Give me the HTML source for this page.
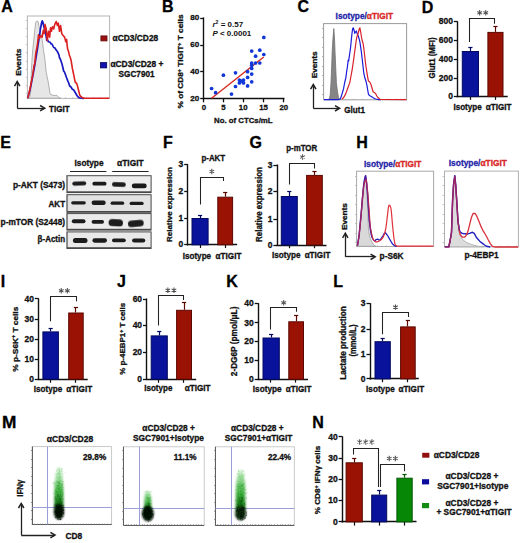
<!DOCTYPE html>
<html><head><meta charset="utf-8"><style>
html,body{margin:0;padding:0;background:#fff;}
svg{display:block;}
text{font-family:"Liberation Sans",sans-serif;font-weight:bold;}
</style></head><body>
<svg width="520" height="543" viewBox="0 0 520 543">
<defs><filter id="bl2" x="-20%" y="-50%" width="140%" height="200%"><feGaussianBlur stdDeviation="0.45"/></filter><filter id="blur" x="-50%" y="-50%" width="200%" height="200%"><feGaussianBlur stdDeviation="0.9"/></filter></defs>
<rect width="520" height="543" fill="#fff"/>
<text x="1.25" y="12.45" font-size="16" fill="#000" stroke="#000" stroke-width="0.3">A</text>
<rect x="27.40" y="16.00" width="82.20" height="82.40" fill="white" stroke="#b4b4b4" stroke-width="1.0"/>
<line x1="25.80" y1="20.50" x2="27.40" y2="20.50" stroke="#b0b0b0" stroke-width="0.7"/>
<line x1="25.80" y1="28.50" x2="27.40" y2="28.50" stroke="#b0b0b0" stroke-width="0.7"/>
<line x1="25.80" y1="36.50" x2="27.40" y2="36.50" stroke="#b0b0b0" stroke-width="0.7"/>
<line x1="25.80" y1="44.50" x2="27.40" y2="44.50" stroke="#b0b0b0" stroke-width="0.7"/>
<line x1="25.80" y1="52.50" x2="27.40" y2="52.50" stroke="#b0b0b0" stroke-width="0.7"/>
<line x1="25.80" y1="61.50" x2="27.40" y2="61.50" stroke="#b0b0b0" stroke-width="0.7"/>
<line x1="25.80" y1="69.50" x2="27.40" y2="69.50" stroke="#b0b0b0" stroke-width="0.7"/>
<line x1="25.80" y1="77.50" x2="27.40" y2="77.50" stroke="#b0b0b0" stroke-width="0.7"/>
<line x1="25.80" y1="85.50" x2="27.40" y2="85.50" stroke="#b0b0b0" stroke-width="0.7"/>
<line x1="25.80" y1="93.50" x2="27.40" y2="93.50" stroke="#b0b0b0" stroke-width="0.7"/>
<line x1="30.50" y1="98.40" x2="30.50" y2="97.20" stroke="#aaa" stroke-width="0.6"/>
<line x1="37.50" y1="98.40" x2="37.50" y2="97.20" stroke="#aaa" stroke-width="0.6"/>
<line x1="44.50" y1="98.40" x2="44.50" y2="97.20" stroke="#aaa" stroke-width="0.6"/>
<line x1="51.50" y1="98.40" x2="51.50" y2="97.20" stroke="#aaa" stroke-width="0.6"/>
<line x1="58.50" y1="98.40" x2="58.50" y2="97.20" stroke="#aaa" stroke-width="0.6"/>
<line x1="65.50" y1="98.40" x2="65.50" y2="97.20" stroke="#aaa" stroke-width="0.6"/>
<line x1="72.50" y1="98.40" x2="72.50" y2="97.20" stroke="#aaa" stroke-width="0.6"/>
<line x1="79.50" y1="98.40" x2="79.50" y2="97.20" stroke="#aaa" stroke-width="0.6"/>
<line x1="86.50" y1="98.40" x2="86.50" y2="97.20" stroke="#aaa" stroke-width="0.6"/>
<line x1="93.50" y1="98.40" x2="93.50" y2="97.20" stroke="#aaa" stroke-width="0.6"/>
<line x1="100.50" y1="98.40" x2="100.50" y2="97.20" stroke="#aaa" stroke-width="0.6"/>
<line x1="107.50" y1="98.40" x2="107.50" y2="97.20" stroke="#aaa" stroke-width="0.6"/>
<path d="M27.60,98.20 L29.80,97.00 L30.70,92.00 L31.40,70.00 L32.30,55.00 L32.90,48.60 L33.80,40.00 L34.80,30.00 L35.80,22.10 L37.00,20.90 L38.10,21.50 L39.30,27.80 L40.50,32.00 L41.60,37.10 L42.50,42.00 L43.30,48.60 L44.10,54.00 L44.80,58.00 L46.20,72.50 L47.20,77.00 L48.20,81.90 L49.20,88.00 L50.20,94.00 L52.90,95.40 L57.00,95.40 L59.00,98.00 L61.00,98.20Z" fill="#e6e6e6" stroke="#a8a8a8" stroke-width="0.9" stroke-linejoin="round"/>
<path d="M27.60,98.20 L28.60,95.00 L30.20,89.00 L32.00,80.00 L33.50,72.00 L35.20,62.50 L36.40,55.00 L37.50,48.60 L38.50,42.00 L39.30,37.10 L40.40,29.00 L41.00,26.00 L41.60,22.70 L42.20,20.90 L42.80,22.00 L43.30,24.40 L44.50,29.00 L45.10,28.00 L45.60,32.50 L46.80,40.50 L47.50,40.00 L48.50,41.70 L50.20,42.30 L51.00,43.80 L52.00,44.00 L53.70,47.50 L55.00,48.00 L56.00,49.80 L57.70,52.10 L59.00,55.00 L59.50,57.80 L60.50,59.50 L61.70,63.10 L62.50,66.00 L63.70,71.20 L64.50,72.00 L65.70,75.20 L66.50,77.50 L67.70,80.60 L68.50,82.50 L69.70,86.00 L71.00,87.00 L72.40,89.30 L73.50,89.80 L74.50,91.30 L75.50,93.00 L76.50,94.70 L77.50,96.20 L78.50,97.40 L80.00,98.00 L81.20,98.20 L84.00,98.30" fill="none" stroke="#1818c0" stroke-width="1.7" stroke-linejoin="round"/>
<path d="M27.60,98.20 L28.50,95.50 L30.00,88.60 L31.30,82.00 L32.70,75.20 L34.10,65.00 L34.70,64.40 L35.80,53.20 L36.80,48.00 L37.50,44.00 L38.50,34.80 L39.60,38.20 L40.80,35.90 L42.20,37.10 L43.30,30.20 L44.20,33.60 L45.00,24.40 L46.20,29.00 L47.30,40.50 L48.50,31.30 L49.70,37.10 L50.50,27.80 L51.40,31.30 L52.50,26.70 L53.70,29.00 L54.80,24.40 L56.20,21.50 L57.40,25.50 L58.30,23.20 L59.50,31.30 L60.60,25.50 L61.80,33.60 L62.90,35.30 L64.60,37.10 L65.80,41.70 L66.60,39.40 L67.50,48.60 L68.70,52.10 L69.30,55.00 L70.40,57.80 L71.10,60.40 L72.40,68.50 L73.80,75.20 L75.10,81.90 L76.90,83.90 L78.50,90.00 L79.80,95.40 L82.50,97.80 L85.20,98.20 L109.30,98.20" fill="none" stroke="#dc2020" stroke-width="1.6" stroke-linejoin="round"/>
<rect x="100.90" y="35.90" width="6.10" height="5.00" fill="#9a1010" stroke="#600808" stroke-width="0.8"/>
<rect x="100.40" y="62.60" width="6.30" height="5.30" fill="#1212b0" stroke="#050560" stroke-width="0.8"/>
<text x="112.60" y="40.66" font-size="8.3" text-anchor="start" fill="#111" stroke="#111" stroke-width="0.3" textLength="45.6" lengthAdjust="spacingAndGlyphs">&#945;CD3/CD28</text>
<text x="110.40" y="67.26" font-size="8.3" text-anchor="start" fill="#111" stroke="#111" stroke-width="0.3" textLength="53" lengthAdjust="spacingAndGlyphs">&#945;CD3/CD28 +</text>
<text x="136.60" y="76.76" font-size="8.3" text-anchor="middle" fill="#111" stroke="#111" stroke-width="0.3" textLength="36" lengthAdjust="spacingAndGlyphs">SGC7901</text>
<line x1="17.50" y1="82.00" x2="17.50" y2="108.20" stroke="#222" stroke-width="1.3"/>
<line x1="17.20" y1="108.50" x2="44.30" y2="108.50" stroke="#222" stroke-width="1.3"/>
<path d="M14.50,86.20 L17.20,81.60 L19.90,86.20" fill="none" stroke="#222" stroke-width="1.5" stroke-linejoin="miter"/>
<path d="M40.10,105.50 L44.70,108.20 L40.10,110.90" fill="none" stroke="#222" stroke-width="1.5" stroke-linejoin="miter"/>
<text x="21.02" y="62.20" font-size="7.9" text-anchor="middle" fill="#111" stroke="#111" stroke-width="0.3" transform="rotate(-90 21.02 62.20)" textLength="27" lengthAdjust="spacingAndGlyphs">Events</text>
<text x="49.00" y="111.66" font-size="8.6" text-anchor="start" fill="#111" stroke="#111" stroke-width="0.3" textLength="20.6" lengthAdjust="spacingAndGlyphs">TIGIT</text>
<text x="162.00" y="12.35" font-size="16" fill="#000" stroke="#000" stroke-width="0.3">B</text>
<line x1="203.50" y1="17.40" x2="203.50" y2="99.40" stroke="#111" stroke-width="1.4"/>
<line x1="203.10" y1="98.50" x2="284.50" y2="98.50" stroke="#111" stroke-width="1.4"/>
<line x1="200.20" y1="18.50" x2="203.80" y2="18.50" stroke="#111" stroke-width="1.3"/>
<text x="199.30" y="20.49" font-size="8.1" text-anchor="end" fill="#111" stroke="#111" stroke-width="0.3">80</text>
<line x1="200.20" y1="45.50" x2="203.80" y2="45.50" stroke="#111" stroke-width="1.3"/>
<text x="199.30" y="47.49" font-size="8.1" text-anchor="end" fill="#111" stroke="#111" stroke-width="0.3">60</text>
<line x1="200.20" y1="71.50" x2="203.80" y2="71.50" stroke="#111" stroke-width="1.3"/>
<text x="199.30" y="74.39" font-size="8.1" text-anchor="end" fill="#111" stroke="#111" stroke-width="0.3">40</text>
<line x1="200.20" y1="98.50" x2="203.80" y2="98.50" stroke="#111" stroke-width="1.3"/>
<text x="199.30" y="101.19" font-size="8.1" text-anchor="end" fill="#111" stroke="#111" stroke-width="0.3">20</text>
<line x1="203.50" y1="98.70" x2="203.50" y2="102.30" stroke="#111" stroke-width="1.3"/>
<text x="203.80" y="110.28" font-size="7.8" text-anchor="middle" fill="#111" stroke="#111" stroke-width="0.3">0</text>
<line x1="223.50" y1="98.70" x2="223.50" y2="102.30" stroke="#111" stroke-width="1.3"/>
<text x="223.40" y="110.28" font-size="7.8" text-anchor="middle" fill="#111" stroke="#111" stroke-width="0.3">5</text>
<line x1="243.50" y1="98.70" x2="243.50" y2="102.30" stroke="#111" stroke-width="1.3"/>
<text x="243.20" y="110.28" font-size="7.8" text-anchor="middle" fill="#111" stroke="#111" stroke-width="0.3">10</text>
<line x1="263.50" y1="98.70" x2="263.50" y2="102.30" stroke="#111" stroke-width="1.3"/>
<text x="263.50" y="110.28" font-size="7.8" text-anchor="middle" fill="#111" stroke="#111" stroke-width="0.3">15</text>
<line x1="283.50" y1="98.70" x2="283.50" y2="102.30" stroke="#111" stroke-width="1.3"/>
<text x="283.80" y="110.28" font-size="7.8" text-anchor="middle" fill="#111" stroke="#111" stroke-width="0.3">20</text>
<text x="243.30" y="122.72" font-size="7.9" text-anchor="middle" fill="#111" stroke="#111" stroke-width="0.3" textLength="58.5" lengthAdjust="spacingAndGlyphs">No. of CTCs/mL</text>
<text x="183.32" y="61.50" font-size="7.9" text-anchor="middle" fill="#111" stroke="#111" stroke-width="0.3" transform="rotate(-90 183.32 61.50)" textLength="94" lengthAdjust="spacingAndGlyphs">% of CD8<tspan font-size="5" dy="-2.5">+</tspan><tspan dy="2.5"> TIGIT</tspan><tspan font-size="5" dy="-2.5">+</tspan><tspan dy="2.5"> T cells</tspan></text>
<text x="212.4" y="26.9" font-size="8" fill="#111"><tspan font-style="italic">r</tspan><tspan font-size="5.2" dy="-3">2</tspan><tspan dy="3"> = 0.57</tspan></text>
<text x="212.4" y="36.4" font-size="8" fill="#111"><tspan font-style="italic">P</tspan> &lt; 0.0001</text>
<line x1="211.60" y1="98.20" x2="263.80" y2="56.90" stroke="#d8281e" stroke-width="1.3"/>
<circle cx="211.6" cy="88.5" r="1.85" fill="#1238d8"/>
<circle cx="215.6" cy="92.7" r="1.85" fill="#1238d8"/>
<circle cx="223.4" cy="75.2" r="1.85" fill="#1238d8"/>
<circle cx="231.5" cy="94.1" r="1.85" fill="#1238d8"/>
<circle cx="235.5" cy="72.8" r="1.85" fill="#1238d8"/>
<circle cx="235.5" cy="86.5" r="1.85" fill="#1238d8"/>
<circle cx="239.4" cy="80.1" r="1.85" fill="#1238d8"/>
<circle cx="239.4" cy="82.9" r="1.85" fill="#1238d8"/>
<circle cx="241.5" cy="81.1" r="1.85" fill="#1238d8"/>
<circle cx="243.5" cy="80.1" r="1.85" fill="#1238d8"/>
<circle cx="243.5" cy="82.9" r="1.85" fill="#1238d8"/>
<circle cx="247.6" cy="71.7" r="1.85" fill="#1238d8"/>
<circle cx="247.6" cy="77.4" r="1.85" fill="#1238d8"/>
<circle cx="247.6" cy="85.9" r="1.85" fill="#1238d8"/>
<circle cx="251.7" cy="51.1" r="1.85" fill="#1238d8"/>
<circle cx="251.7" cy="63" r="1.85" fill="#1238d8"/>
<circle cx="251.7" cy="65.3" r="1.85" fill="#1238d8"/>
<circle cx="251.7" cy="68.4" r="1.85" fill="#1238d8"/>
<circle cx="251.7" cy="74.1" r="1.85" fill="#1238d8"/>
<circle cx="251.7" cy="81.8" r="1.85" fill="#1238d8"/>
<circle cx="255.6" cy="56.2" r="1.85" fill="#1238d8"/>
<circle cx="255.6" cy="63" r="1.85" fill="#1238d8"/>
<circle cx="259.8" cy="50.2" r="1.85" fill="#1238d8"/>
<circle cx="259.8" cy="63" r="1.85" fill="#1238d8"/>
<circle cx="263.8" cy="37.4" r="1.85" fill="#1238d8"/>
<circle cx="263.8" cy="54.5" r="1.85" fill="#1238d8"/>
<text x="297.60" y="12.46" font-size="16" fill="#000" stroke="#000" stroke-width="0.3">C</text>
<text x="335.6" y="19.0" font-size="8.6" fill="#2424a8" stroke="#2424a8" stroke-width="0.3" textLength="57.4" lengthAdjust="spacingAndGlyphs">Isotype/<tspan fill="#d82828" stroke="#d82828">&#945;TIGIT</tspan></text>
<rect x="323.60" y="23.60" width="83.00" height="76.20" fill="white" stroke="#9a9a9a" stroke-width="1.0"/>
<line x1="322.00" y1="28.50" x2="323.60" y2="28.50" stroke="#999" stroke-width="0.7"/>
<line x1="322.00" y1="37.50" x2="323.60" y2="37.50" stroke="#999" stroke-width="0.7"/>
<line x1="322.00" y1="47.50" x2="323.60" y2="47.50" stroke="#999" stroke-width="0.7"/>
<line x1="322.00" y1="56.50" x2="323.60" y2="56.50" stroke="#999" stroke-width="0.7"/>
<line x1="322.00" y1="66.50" x2="323.60" y2="66.50" stroke="#999" stroke-width="0.7"/>
<line x1="322.00" y1="75.50" x2="323.60" y2="75.50" stroke="#999" stroke-width="0.7"/>
<line x1="322.00" y1="85.50" x2="323.60" y2="85.50" stroke="#999" stroke-width="0.7"/>
<line x1="322.00" y1="94.50" x2="323.60" y2="94.50" stroke="#999" stroke-width="0.7"/>
<line x1="328.50" y1="99.80" x2="328.50" y2="98.60" stroke="#aaa" stroke-width="0.6"/>
<line x1="336.50" y1="99.80" x2="336.50" y2="98.60" stroke="#aaa" stroke-width="0.6"/>
<line x1="345.50" y1="99.80" x2="345.50" y2="98.60" stroke="#aaa" stroke-width="0.6"/>
<line x1="353.50" y1="99.80" x2="353.50" y2="98.60" stroke="#aaa" stroke-width="0.6"/>
<line x1="362.50" y1="99.80" x2="362.50" y2="98.60" stroke="#aaa" stroke-width="0.6"/>
<line x1="370.50" y1="99.80" x2="370.50" y2="98.60" stroke="#aaa" stroke-width="0.6"/>
<line x1="379.50" y1="99.80" x2="379.50" y2="98.60" stroke="#aaa" stroke-width="0.6"/>
<line x1="387.50" y1="99.80" x2="387.50" y2="98.60" stroke="#aaa" stroke-width="0.6"/>
<line x1="396.50" y1="99.80" x2="396.50" y2="98.60" stroke="#aaa" stroke-width="0.6"/>
<line x1="404.50" y1="99.80" x2="404.50" y2="98.60" stroke="#aaa" stroke-width="0.6"/>
<path d="M329.20,99.50 L330.20,95.00 L331.00,82.60 L331.70,66.00 L332.20,51.30 L333.00,38.00 L333.80,28.60 L334.50,38.00 L335.00,51.30 L335.70,67.00 L336.40,82.60 L337.50,92.00 L338.50,97.50 L339.80,99.50Z" fill="#858585" stroke="#707070" stroke-width="0.8" stroke-linejoin="round"/>
<path d="M324.00,99.60 L338.00,99.60 L340.40,99.00 L342.00,94.00 L343.50,88.90 L344.60,83.00 L345.80,77.90 L346.60,72.00 L347.40,67.00 L348.20,60.00 L348.70,61.00 L349.00,58.40 L349.80,53.00 L350.50,48.20 L351.30,40.00 L352.10,32.50 L352.60,29.00 L353.20,27.80 L354.00,30.00 L354.80,33.30 L355.50,32.00 L356.30,31.00 L357.00,33.00 L357.60,34.90 L358.30,36.00 L359.10,38.80 L359.90,42.00 L360.70,47.40 L361.50,53.00 L362.30,60.00 L363.00,66.00 L363.80,73.20 L364.60,77.00 L365.40,79.50 L366.20,82.00 L367.00,85.80 L367.70,90.00 L368.50,94.40 L369.50,95.50 L371.70,96.70 L373.50,98.00 L375.60,99.00 L378.70,99.70 L381.00,99.70" fill="none" stroke="#1a1ad8" stroke-width="1.2" stroke-linejoin="round"/>
<path d="M342.00,99.30 L344.00,97.00 L345.80,93.60 L347.80,88.00 L349.80,82.60 L351.00,76.00 L352.10,70.10 L353.00,64.00 L353.70,59.10 L354.50,53.00 L355.20,48.20 L356.00,42.00 L356.80,37.20 L357.60,35.00 L358.40,32.50 L359.20,29.00 L359.90,27.80 L360.70,32.00 L361.50,37.20 L362.30,41.00 L363.10,43.50 L363.80,48.20 L364.60,55.00 L365.40,62.30 L366.20,68.00 L367.00,73.20 L367.80,78.00 L368.50,81.10 L369.70,82.00 L370.90,84.20 L372.00,88.00 L373.20,92.00 L374.40,92.50 L375.60,93.60 L376.80,96.00 L377.90,97.50 L380.30,99.40 L406.40,99.60" fill="none" stroke="#d8202a" stroke-width="1.2" stroke-linejoin="round"/>
<line x1="313.50" y1="85.00" x2="313.50" y2="108.30" stroke="#222" stroke-width="1.3"/>
<line x1="313.30" y1="108.50" x2="339.20" y2="108.50" stroke="#222" stroke-width="1.3"/>
<path d="M310.60,89.20 L313.30,84.60 L316.00,89.20" fill="none" stroke="#222" stroke-width="1.5" stroke-linejoin="miter"/>
<path d="M335.00,105.60 L339.60,108.30 L335.00,111.00" fill="none" stroke="#222" stroke-width="1.5" stroke-linejoin="miter"/>
<text x="317.02" y="64.80" font-size="7.9" text-anchor="middle" fill="#111" stroke="#111" stroke-width="0.3" transform="rotate(-90 317.02 64.80)" textLength="27" lengthAdjust="spacingAndGlyphs">Events</text>
<text x="344.30" y="112.86" font-size="8.6" text-anchor="start" fill="#111" stroke="#111" stroke-width="0.3" textLength="20.6" lengthAdjust="spacingAndGlyphs">Glut1</text>
<text x="421.70" y="12.50" font-size="16" fill="#000" stroke="#000" stroke-width="0.3">D</text>
<line x1="457.50" y1="21.20" x2="457.50" y2="97.30" stroke="#111" stroke-width="1.4"/>
<line x1="456.70" y1="96.50" x2="507.70" y2="96.50" stroke="#111" stroke-width="1.4"/>
<line x1="453.80" y1="21.50" x2="457.40" y2="21.50" stroke="#111" stroke-width="1.3"/>
<text x="452.90" y="24.42" font-size="8.5" text-anchor="end" fill="#111" stroke="#111" stroke-width="0.3">800</text>
<line x1="453.80" y1="40.50" x2="457.40" y2="40.50" stroke="#111" stroke-width="1.3"/>
<text x="452.90" y="43.32" font-size="8.5" text-anchor="end" fill="#111" stroke="#111" stroke-width="0.3">600</text>
<line x1="453.80" y1="59.50" x2="457.40" y2="59.50" stroke="#111" stroke-width="1.3"/>
<text x="452.90" y="62.12" font-size="8.5" text-anchor="end" fill="#111" stroke="#111" stroke-width="0.3">400</text>
<line x1="453.80" y1="78.50" x2="457.40" y2="78.50" stroke="#111" stroke-width="1.3"/>
<text x="452.90" y="80.62" font-size="8.5" text-anchor="end" fill="#111" stroke="#111" stroke-width="0.3">200</text>
<line x1="453.80" y1="96.50" x2="457.40" y2="96.50" stroke="#111" stroke-width="1.3"/>
<text x="452.90" y="99.22" font-size="8.5" text-anchor="end" fill="#111" stroke="#111" stroke-width="0.3">0</text>
<line x1="470.50" y1="96.60" x2="470.50" y2="99.90" stroke="#111" stroke-width="1.2"/>
<line x1="495.50" y1="96.60" x2="495.50" y2="99.90" stroke="#111" stroke-width="1.2"/>
<line x1="470.50" y1="51.00" x2="470.50" y2="47.80" stroke="#040a60" stroke-width="1.2"/>
<line x1="468.30" y1="47.50" x2="472.50" y2="47.50" stroke="#040a60" stroke-width="1.2"/>
<rect x="462.30" y="51.50" width="16.20" height="45.10" fill="#08129a" stroke="#040a60" stroke-width="1"/>
<line x1="495.50" y1="31.90" x2="495.50" y2="26.60" stroke="#5a0802" stroke-width="1.2"/>
<line x1="493.35" y1="26.50" x2="497.55" y2="26.50" stroke="#5a0802" stroke-width="1.2"/>
<rect x="487.90" y="32.40" width="15.10" height="64.20" fill="#991204" stroke="#5a0802" stroke-width="1"/>
<path d="M469.50,42.00 L469.50,18.50 L494.50,18.50 L494.50,23.80" fill="none" stroke="#222" stroke-width="1.05" stroke-linejoin="miter"/>
<path d="M479.65,10.10L479.65,15.50M477.31,11.45L481.99,14.15M477.31,14.15L481.99,11.45M485.75,10.10L485.75,15.50M483.41,11.45L488.09,14.15M483.41,14.15L488.09,11.45" stroke="#505050" stroke-width="1.05" fill="none"/>
<text x="434.82" y="58.00" font-size="8.2" text-anchor="middle" fill="#111" stroke="#111" stroke-width="0.3" transform="rotate(-90 434.82 58.00)" textLength="41" lengthAdjust="spacingAndGlyphs">Glut1 (MFI)</text>
<text x="467.60" y="109.99" font-size="8.4" text-anchor="middle" fill="#111" stroke="#111" stroke-width="0.3" textLength="28.3" lengthAdjust="spacingAndGlyphs">Isotype</text>
<text x="498.70" y="109.99" font-size="8.4" text-anchor="middle" fill="#111" stroke="#111" stroke-width="0.3" textLength="25.7" lengthAdjust="spacingAndGlyphs">&#945;TIGIT</text>
<text x="0.30" y="147.90" font-size="16" fill="#000" stroke="#000" stroke-width="0.3">E</text>
<text x="89.00" y="166.19" font-size="8.4" text-anchor="middle" fill="#111" stroke="#111" stroke-width="0.3" textLength="29" lengthAdjust="spacingAndGlyphs">Isotype</text>
<text x="130.40" y="166.19" font-size="8.4" text-anchor="middle" fill="#111" stroke="#111" stroke-width="0.3" textLength="26.6" lengthAdjust="spacingAndGlyphs">&#945;TIGIT</text>
<line x1="70.00" y1="171.50" x2="106.40" y2="171.50" stroke="#222" stroke-width="1.2"/>
<line x1="112.20" y1="171.50" x2="148.60" y2="171.50" stroke="#222" stroke-width="1.2"/>
<rect x="66.40" y="175.20" width="85.20" height="17.90" fill="#484848" stroke="none" stroke-width="0"/>
<rect x="67.60" y="176.20" width="83.00" height="15.10" fill="#eeeeee" stroke="none" stroke-width="0"/>
<text x="65.10" y="187.52" font-size="8.2" text-anchor="end" fill="#111" stroke="#111" stroke-width="0.3" textLength="52.2" lengthAdjust="spacingAndGlyphs">p-AKT (S473)</text>
<rect x="66.40" y="194.20" width="85.20" height="18.60" fill="#484848" stroke="none" stroke-width="0"/>
<rect x="67.60" y="195.20" width="83.00" height="15.80" fill="#e2e2e2" stroke="none" stroke-width="0"/>
<text x="65.10" y="207.32" font-size="8.2" text-anchor="end" fill="#111" stroke="#111" stroke-width="0.3" textLength="16.6" lengthAdjust="spacingAndGlyphs">AKT</text>
<rect x="66.40" y="213.10" width="85.20" height="17.50" fill="#484848" stroke="none" stroke-width="0"/>
<rect x="67.60" y="214.10" width="83.00" height="14.70" fill="#ebebeb" stroke="none" stroke-width="0"/>
<text x="65.10" y="224.92" font-size="8.2" text-anchor="end" fill="#111" stroke="#111" stroke-width="0.3" textLength="64.5" lengthAdjust="spacingAndGlyphs">p-mTOR (S2448)</text>
<rect x="66.40" y="231.40" width="85.20" height="17.60" fill="#484848" stroke="none" stroke-width="0"/>
<rect x="67.60" y="232.40" width="83.00" height="14.80" fill="#e9e9e9" stroke="none" stroke-width="0"/>
<text x="65.10" y="242.42" font-size="8.2" text-anchor="end" fill="#111" stroke="#111" stroke-width="0.3" textLength="27.5" lengthAdjust="spacingAndGlyphs">&#946;-Actin</text>
<rect x="72.30" y="181.60" width="13.90" height="4.00" rx="2.00" ry="2.00" fill="#1a1a1a" filter="url(#bl2)" transform="rotate(-2 79.25 183.60)"/>
<rect x="92.40" y="181.85" width="14.10" height="3.70" rx="1.85" ry="1.85" fill="#1a1a1a" filter="url(#bl2)"/>
<rect x="112.00" y="182.15" width="13.80" height="4.50" rx="2.25" ry="2.25" fill="#1a1a1a" filter="url(#bl2)" transform="rotate(2 118.90 184.40)"/>
<rect x="131.80" y="183.50" width="14.90" height="4.80" rx="2.40" ry="2.40" fill="#1a1a1a" filter="url(#bl2)"/>
<rect x="71.20" y="201.20" width="14.60" height="3.20" rx="1.60" ry="1.60" fill="#1a1a1a" filter="url(#bl2)"/>
<rect x="91.60" y="200.45" width="14.10" height="4.50" rx="2.25" ry="2.25" fill="#1a1a1a" filter="url(#bl2)"/>
<rect x="110.60" y="201.60" width="13.60" height="3.20" rx="1.60" ry="1.60" fill="#1a1a1a" filter="url(#bl2)"/>
<rect x="129.60" y="201.70" width="14.10" height="3.40" rx="1.70" ry="1.70" fill="#1a1a1a" filter="url(#bl2)"/>
<rect x="71.80" y="219.15" width="13.70" height="4.10" rx="2.05" ry="2.05" fill="#1a1a1a" filter="url(#bl2)"/>
<rect x="91.60" y="219.95" width="12.40" height="3.70" rx="1.85" ry="1.85" fill="#1a1a1a" filter="url(#bl2)"/>
<rect x="108.60" y="219.30" width="14.40" height="7.00" rx="3.50" ry="3.50" fill="#1a1a1a" filter="url(#bl2)" transform="rotate(3 115.80 222.80)"/>
<rect x="128.00" y="220.30" width="15.70" height="6.40" rx="3.20" ry="3.20" fill="#1a1a1a" filter="url(#bl2)" transform="rotate(-5 135.85 223.50)"/>
<rect x="72.90" y="238.10" width="14.60" height="5.00" rx="2.50" ry="2.50" fill="#1a1a1a" filter="url(#bl2)"/>
<rect x="92.40" y="238.35" width="14.60" height="4.30" rx="2.15" ry="2.15" fill="#1a1a1a" filter="url(#bl2)"/>
<rect x="112.00" y="238.40" width="13.80" height="3.80" rx="1.90" ry="1.90" fill="#1a1a1a" filter="url(#bl2)"/>
<rect x="132.10" y="238.40" width="13.20" height="4.20" rx="2.10" ry="2.10" fill="#1a1a1a" filter="url(#bl2)"/>
<text x="163.00" y="147.80" font-size="16" fill="#000" stroke="#000" stroke-width="0.3">F</text>
<text x="213.30" y="160.86" font-size="8.3" text-anchor="middle" fill="#111" stroke="#111" stroke-width="0.3" textLength="23.8" lengthAdjust="spacingAndGlyphs">p-AKT</text>
<line x1="187.50" y1="164.20" x2="187.50" y2="245.50" stroke="#111" stroke-width="1.4"/>
<line x1="187.10" y1="244.50" x2="237.10" y2="244.50" stroke="#111" stroke-width="1.4"/>
<line x1="184.20" y1="164.50" x2="187.80" y2="164.50" stroke="#111" stroke-width="1.3"/>
<text x="183.30" y="167.42" font-size="8.5" text-anchor="end" fill="#111" stroke="#111" stroke-width="0.3">3</text>
<line x1="184.20" y1="191.50" x2="187.80" y2="191.50" stroke="#111" stroke-width="1.3"/>
<text x="183.30" y="193.62" font-size="8.5" text-anchor="end" fill="#111" stroke="#111" stroke-width="0.3">2</text>
<line x1="184.20" y1="218.50" x2="187.80" y2="218.50" stroke="#111" stroke-width="1.3"/>
<text x="183.30" y="220.92" font-size="8.5" text-anchor="end" fill="#111" stroke="#111" stroke-width="0.3">1</text>
<line x1="184.20" y1="244.50" x2="187.80" y2="244.50" stroke="#111" stroke-width="1.3"/>
<text x="183.30" y="247.42" font-size="8.5" text-anchor="end" fill="#111" stroke="#111" stroke-width="0.3">0</text>
<line x1="200.50" y1="244.80" x2="200.50" y2="248.00" stroke="#111" stroke-width="1.2"/>
<line x1="225.50" y1="244.80" x2="225.50" y2="248.00" stroke="#111" stroke-width="1.2"/>
<line x1="200.50" y1="218.00" x2="200.50" y2="215.40" stroke="#040a60" stroke-width="1.2"/>
<line x1="197.95" y1="215.50" x2="202.15" y2="215.50" stroke="#040a60" stroke-width="1.2"/>
<rect x="192.00" y="218.50" width="16.10" height="26.30" fill="#08129a" stroke="#040a60" stroke-width="1"/>
<line x1="225.50" y1="196.70" x2="225.50" y2="192.30" stroke="#5a0802" stroke-width="1.2"/>
<line x1="223.10" y1="192.50" x2="227.30" y2="192.50" stroke="#5a0802" stroke-width="1.2"/>
<rect x="217.80" y="197.20" width="14.80" height="47.60" fill="#991204" stroke="#5a0802" stroke-width="1"/>
<path d="M200.50,204.40 L200.50,177.50 L223.50,177.50 L223.50,181.00" fill="none" stroke="#222" stroke-width="1.05" stroke-linejoin="miter"/>
<path d="M211.80,168.80L211.80,174.20M209.46,170.15L214.14,172.85M209.46,172.85L214.14,170.15" stroke="#505050" stroke-width="1.05" fill="none"/>
<text x="172.12" y="204.50" font-size="7.9" text-anchor="middle" fill="#111" stroke="#111" stroke-width="0.3" transform="rotate(-90 172.12 204.50)" textLength="75" lengthAdjust="spacingAndGlyphs">Relative expression</text>
<text x="196.90" y="258.99" font-size="8.4" text-anchor="middle" fill="#111" stroke="#111" stroke-width="0.3" textLength="28.5" lengthAdjust="spacingAndGlyphs">Isotype</text>
<text x="228.50" y="258.99" font-size="8.4" text-anchor="middle" fill="#111" stroke="#111" stroke-width="0.3" textLength="25.8" lengthAdjust="spacingAndGlyphs">&#945;TIGIT</text>
<text x="249.60" y="147.80" font-size="16" fill="#000" stroke="#000" stroke-width="0.3">G</text>
<text x="301.70" y="150.76" font-size="8.3" text-anchor="middle" fill="#111" stroke="#111" stroke-width="0.3" textLength="31" lengthAdjust="spacingAndGlyphs">p-mTOR</text>
<line x1="277.50" y1="164.50" x2="277.50" y2="245.70" stroke="#111" stroke-width="1.4"/>
<line x1="276.30" y1="245.50" x2="326.50" y2="245.50" stroke="#111" stroke-width="1.4"/>
<line x1="273.40" y1="165.50" x2="277.00" y2="165.50" stroke="#111" stroke-width="1.3"/>
<text x="272.50" y="167.72" font-size="8.5" text-anchor="end" fill="#111" stroke="#111" stroke-width="0.3">3</text>
<line x1="273.40" y1="191.50" x2="277.00" y2="191.50" stroke="#111" stroke-width="1.3"/>
<text x="272.50" y="193.92" font-size="8.5" text-anchor="end" fill="#111" stroke="#111" stroke-width="0.3">2</text>
<line x1="273.40" y1="219.50" x2="277.00" y2="219.50" stroke="#111" stroke-width="1.3"/>
<text x="272.50" y="221.62" font-size="8.5" text-anchor="end" fill="#111" stroke="#111" stroke-width="0.3">1</text>
<line x1="273.40" y1="245.50" x2="277.00" y2="245.50" stroke="#111" stroke-width="1.3"/>
<text x="272.50" y="247.62" font-size="8.5" text-anchor="end" fill="#111" stroke="#111" stroke-width="0.3">0</text>
<line x1="289.50" y1="245.00" x2="289.50" y2="248.20" stroke="#111" stroke-width="1.2"/>
<line x1="314.50" y1="245.00" x2="314.50" y2="248.20" stroke="#111" stroke-width="1.2"/>
<line x1="289.50" y1="196.00" x2="289.50" y2="191.10" stroke="#040a60" stroke-width="1.2"/>
<line x1="287.20" y1="191.50" x2="291.40" y2="191.50" stroke="#040a60" stroke-width="1.2"/>
<rect x="281.30" y="196.50" width="16.00" height="48.50" fill="#08129a" stroke="#040a60" stroke-width="1"/>
<line x1="314.50" y1="174.90" x2="314.50" y2="171.80" stroke="#5a0802" stroke-width="1.2"/>
<line x1="312.35" y1="171.50" x2="316.55" y2="171.50" stroke="#5a0802" stroke-width="1.2"/>
<rect x="306.60" y="175.40" width="15.70" height="69.60" fill="#991204" stroke="#5a0802" stroke-width="1"/>
<path d="M289.50,184.60 L289.50,163.50 L314.50,163.50 L314.50,168.50" fill="none" stroke="#222" stroke-width="1.05" stroke-linejoin="miter"/>
<path d="M302.60,154.30L302.60,159.70M300.26,155.65L304.94,158.35M300.26,158.35L304.94,155.65" stroke="#505050" stroke-width="1.05" fill="none"/>
<text x="262.42" y="204.50" font-size="8.2" text-anchor="middle" fill="#111" stroke="#111" stroke-width="0.3" transform="rotate(-90 262.42 204.50)" textLength="75" lengthAdjust="spacingAndGlyphs">Relative expression</text>
<text x="286.20" y="257.99" font-size="8.4" text-anchor="middle" fill="#111" stroke="#111" stroke-width="0.3" textLength="28.5" lengthAdjust="spacingAndGlyphs">Isotype</text>
<text x="317.50" y="257.99" font-size="8.4" text-anchor="middle" fill="#111" stroke="#111" stroke-width="0.3" textLength="25.7" lengthAdjust="spacingAndGlyphs">&#945;TIGIT</text>
<text x="356.30" y="148.00" font-size="16" fill="#000" stroke="#000" stroke-width="0.3">H</text>
<text x="364.0" y="166.6" font-size="8.6" fill="#2424a8" stroke="#2424a8" stroke-width="0.3" textLength="57.4" lengthAdjust="spacingAndGlyphs">Isotype/<tspan fill="#d82828" stroke="#d82828">&#945;TIGIT</tspan></text>
<text x="448.8" y="165.8" font-size="8.6" fill="#2424a8" stroke="#2424a8" stroke-width="0.3" textLength="58.2" lengthAdjust="spacingAndGlyphs">Isotype/<tspan fill="#d82828" stroke="#d82828">&#945;TIGIT</tspan></text>
<rect x="356.60" y="171.20" width="77.00" height="75.30" fill="white" stroke="#a8a8a8" stroke-width="1.0"/>
<rect x="444.50" y="171.10" width="73.90" height="75.70" fill="white" stroke="#b0b0b0" stroke-width="1.0"/>
<line x1="355.00" y1="176.50" x2="356.60" y2="176.50" stroke="#aaa" stroke-width="0.7"/>
<line x1="355.00" y1="185.50" x2="356.60" y2="185.50" stroke="#aaa" stroke-width="0.7"/>
<line x1="355.00" y1="195.50" x2="356.60" y2="195.50" stroke="#aaa" stroke-width="0.7"/>
<line x1="355.00" y1="204.50" x2="356.60" y2="204.50" stroke="#aaa" stroke-width="0.7"/>
<line x1="355.00" y1="214.50" x2="356.60" y2="214.50" stroke="#aaa" stroke-width="0.7"/>
<line x1="355.00" y1="223.50" x2="356.60" y2="223.50" stroke="#aaa" stroke-width="0.7"/>
<line x1="355.00" y1="233.50" x2="356.60" y2="233.50" stroke="#aaa" stroke-width="0.7"/>
<line x1="355.00" y1="242.50" x2="356.60" y2="242.50" stroke="#aaa" stroke-width="0.7"/>
<line x1="360.50" y1="246.50" x2="360.50" y2="245.30" stroke="#aaa" stroke-width="0.6"/>
<line x1="369.50" y1="246.50" x2="369.50" y2="245.30" stroke="#aaa" stroke-width="0.6"/>
<line x1="377.50" y1="246.50" x2="377.50" y2="245.30" stroke="#aaa" stroke-width="0.6"/>
<line x1="386.50" y1="246.50" x2="386.50" y2="245.30" stroke="#aaa" stroke-width="0.6"/>
<line x1="394.50" y1="246.50" x2="394.50" y2="245.30" stroke="#aaa" stroke-width="0.6"/>
<line x1="403.50" y1="246.50" x2="403.50" y2="245.30" stroke="#aaa" stroke-width="0.6"/>
<line x1="411.50" y1="246.50" x2="411.50" y2="245.30" stroke="#aaa" stroke-width="0.6"/>
<line x1="420.50" y1="246.50" x2="420.50" y2="245.30" stroke="#aaa" stroke-width="0.6"/>
<line x1="428.50" y1="246.50" x2="428.50" y2="245.30" stroke="#aaa" stroke-width="0.6"/>
<line x1="442.60" y1="176.50" x2="444.20" y2="176.50" stroke="#aaa" stroke-width="0.7"/>
<line x1="442.60" y1="185.50" x2="444.20" y2="185.50" stroke="#aaa" stroke-width="0.7"/>
<line x1="442.60" y1="195.50" x2="444.20" y2="195.50" stroke="#aaa" stroke-width="0.7"/>
<line x1="442.60" y1="204.50" x2="444.20" y2="204.50" stroke="#aaa" stroke-width="0.7"/>
<line x1="442.60" y1="214.50" x2="444.20" y2="214.50" stroke="#aaa" stroke-width="0.7"/>
<line x1="442.60" y1="223.50" x2="444.20" y2="223.50" stroke="#aaa" stroke-width="0.7"/>
<line x1="442.60" y1="233.50" x2="444.20" y2="233.50" stroke="#aaa" stroke-width="0.7"/>
<line x1="442.60" y1="242.50" x2="444.20" y2="242.50" stroke="#aaa" stroke-width="0.7"/>
<line x1="448.50" y1="246.80" x2="448.50" y2="245.60" stroke="#aaa" stroke-width="0.6"/>
<line x1="456.50" y1="246.80" x2="456.50" y2="245.60" stroke="#aaa" stroke-width="0.6"/>
<line x1="465.50" y1="246.80" x2="465.50" y2="245.60" stroke="#aaa" stroke-width="0.6"/>
<line x1="473.50" y1="246.80" x2="473.50" y2="245.60" stroke="#aaa" stroke-width="0.6"/>
<line x1="482.50" y1="246.80" x2="482.50" y2="245.60" stroke="#aaa" stroke-width="0.6"/>
<line x1="490.50" y1="246.80" x2="490.50" y2="245.60" stroke="#aaa" stroke-width="0.6"/>
<line x1="499.50" y1="246.80" x2="499.50" y2="245.60" stroke="#aaa" stroke-width="0.6"/>
<line x1="507.50" y1="246.80" x2="507.50" y2="245.60" stroke="#aaa" stroke-width="0.6"/>
<line x1="516.50" y1="246.80" x2="516.50" y2="245.60" stroke="#aaa" stroke-width="0.6"/>
<path d="M357.40,246.30 L359.50,235.00 L361.00,215.00 L362.50,195.00 L363.80,184.00 L365.60,176.60 L366.60,185.00 L367.50,205.00 L368.40,228.00 L369.50,236.00 L371.20,240.50 L373.90,245.30 L376.00,246.30Z" fill="#d9d9d9" stroke="#a0a0a0" stroke-width="0.8" stroke-linejoin="round"/>
<path d="M357.40,246.00 L359.00,236.00 L361.00,215.20 L362.50,198.00 L363.80,184.00 L364.80,178.00 L365.60,175.60 L366.50,182.00 L367.50,193.00 L368.40,207.00 L369.30,220.70 L370.60,231.00 L372.00,237.30 L373.50,240.00 L374.80,241.00 L376.20,239.50 L377.60,239.10 L379.00,240.00 L380.40,239.60 L381.80,237.50 L383.10,235.50 L384.20,233.50 L385.30,232.70 L386.80,234.50 L388.20,236.50 L389.60,239.10 L391.00,241.50 L392.30,243.70 L393.70,245.00 L395.10,246.00 L397.00,246.30" fill="none" stroke="#2020c0" stroke-width="1.3" stroke-linejoin="round"/>
<path d="M357.40,246.00 L359.00,236.50 L361.00,217.00 L362.50,198.00 L363.80,185.80 L365.00,181.00 L366.20,179.30 L367.30,188.00 L368.40,200.50 L369.30,213.00 L370.20,226.30 L371.60,234.00 L373.00,239.10 L374.40,241.00 L375.80,241.90 L377.60,241.80 L379.40,241.00 L381.30,239.50 L383.10,237.30 L384.50,234.00 L385.90,228.10 L386.80,221.00 L387.70,213.40 L388.30,208.00 L389.00,205.10 L390.00,205.60 L390.90,207.90 L391.60,214.00 L392.30,222.60 L393.00,230.00 L393.80,237.30 L394.50,241.50 L395.10,244.70 L396.90,246.10 L433.30,246.20" fill="none" stroke="#e0303a" stroke-width="1.2" stroke-linejoin="round"/>
<path d="M357.40,246.00 L359.00,236.00 L361.00,215.20 L362.50,198.00 L363.80,184.00 L364.80,178.00 L365.60,175.60 L366.50,182.00 L367.50,193.00 L368.40,207.00 L369.30,220.70 L370.60,231.00 L372.00,237.30" fill="none" stroke="#6a1a8a" stroke-width="1.5" stroke-linejoin="round" opacity="0.55"/>
<path d="M448.80,246.80 L450.20,240.00 L451.50,232.30 L452.60,200.00 L453.60,184.00 L454.80,175.70 L455.80,186.00 L456.70,200.00 L458.00,221.50 L459.00,229.00 L460.20,235.50 L462.80,239.80 L466.60,242.50 L472.00,244.70 L478.50,246.30 L484.00,246.80Z" fill="#dcdcdc" stroke="#a8a8a8" stroke-width="0.8" stroke-linejoin="round"/>
<path d="M444.80,246.80 L448.80,246.80 L450.20,240.00 L451.50,232.30 L452.60,200.00 L453.60,184.00 L454.80,175.70 L455.80,186.00 L456.70,200.00 L458.00,221.50 L459.60,231.20 L460.70,232.30 L462.30,233.40 L463.90,233.90 L465.50,233.80 L467.20,234.20 L468.50,233.60 L469.80,233.40 L471.20,232.60 L472.50,232.30 L474.20,233.40 L476.30,237.20 L478.00,239.20 L479.50,240.90 L481.20,242.40 L482.80,243.60 L484.60,245.00 L486.50,246.30 L490.30,247.00" fill="none" stroke="#2020c0" stroke-width="1.4" stroke-linejoin="round"/>
<path d="M444.80,246.80 L448.80,246.80 L450.20,240.50 L451.50,233.00 L452.60,201.00 L453.60,185.00 L454.80,176.70 L455.80,187.00 L456.70,201.00 L458.00,222.00 L459.30,231.00 L460.20,234.50 L462.30,237.20 L464.50,237.20 L465.80,236.00 L467.20,233.40 L468.30,230.00 L469.30,225.80 L470.40,221.50 L471.50,217.20 L473.10,213.50 L475.20,213.50 L476.80,216.20 L479.00,221.50 L481.20,226.90 L483.30,231.20 L486.00,235.50 L488.20,239.80 L490.30,243.60 L492.50,246.30 L494.60,247.00 L518.20,247.00" fill="none" stroke="#d8303a" stroke-width="1.3" stroke-linejoin="round"/>
<path d="M444.80,246.80 L448.80,246.80 L450.20,240.00 L451.50,232.30 L452.60,200.00 L453.60,184.00 L454.80,175.70 L455.80,186.00 L456.70,200.00 L458.00,221.50 L459.60,231.20" fill="none" stroke="#6a1a8a" stroke-width="1.5" stroke-linejoin="round" opacity="0.55"/>
<line x1="345.50" y1="233.70" x2="345.50" y2="256.80" stroke="#222" stroke-width="1.3"/>
<line x1="345.30" y1="256.50" x2="374.80" y2="256.50" stroke="#222" stroke-width="1.3"/>
<path d="M342.60,237.90 L345.30,233.30 L348.00,237.90" fill="none" stroke="#222" stroke-width="1.5" stroke-linejoin="miter"/>
<path d="M370.60,254.10 L375.20,256.80 L370.60,259.50" fill="none" stroke="#222" stroke-width="1.5" stroke-linejoin="miter"/>
<text x="347.12" y="216.60" font-size="7.9" text-anchor="middle" fill="#111" stroke="#111" stroke-width="0.3" transform="rotate(-90 347.12 216.60)" textLength="27" lengthAdjust="spacingAndGlyphs">Events</text>
<text x="379.60" y="258.99" font-size="8.4" text-anchor="start" fill="#111" stroke="#111" stroke-width="0.3" textLength="24" lengthAdjust="spacingAndGlyphs">p-S6K</text>
<text x="481.50" y="257.79" font-size="8.4" text-anchor="middle" fill="#111" stroke="#111" stroke-width="0.3" textLength="34.2" lengthAdjust="spacingAndGlyphs">p-4EBP1</text>
<text x="0.70" y="287.30" font-size="16" fill="#000" stroke="#000" stroke-width="0.3">I</text>
<line x1="38.50" y1="298.30" x2="38.50" y2="379.90" stroke="#111" stroke-width="1.4"/>
<line x1="37.70" y1="379.50" x2="87.70" y2="379.50" stroke="#111" stroke-width="1.4"/>
<line x1="34.80" y1="298.50" x2="38.40" y2="298.50" stroke="#111" stroke-width="1.3"/>
<text x="33.90" y="301.52" font-size="8.5" text-anchor="end" fill="#111" stroke="#111" stroke-width="0.3">40</text>
<line x1="34.80" y1="319.50" x2="38.40" y2="319.50" stroke="#111" stroke-width="1.3"/>
<text x="33.90" y="321.62" font-size="8.5" text-anchor="end" fill="#111" stroke="#111" stroke-width="0.3">30</text>
<line x1="34.80" y1="339.50" x2="38.40" y2="339.50" stroke="#111" stroke-width="1.3"/>
<text x="33.90" y="341.62" font-size="8.5" text-anchor="end" fill="#111" stroke="#111" stroke-width="0.3">20</text>
<line x1="34.80" y1="359.50" x2="38.40" y2="359.50" stroke="#111" stroke-width="1.3"/>
<text x="33.90" y="361.72" font-size="8.5" text-anchor="end" fill="#111" stroke="#111" stroke-width="0.3">10</text>
<line x1="34.80" y1="379.50" x2="38.40" y2="379.50" stroke="#111" stroke-width="1.3"/>
<text x="33.90" y="381.82" font-size="8.5" text-anchor="end" fill="#111" stroke="#111" stroke-width="0.3">0</text>
<line x1="50.50" y1="379.20" x2="50.50" y2="382.80" stroke="#111" stroke-width="1.2"/>
<line x1="75.50" y1="379.20" x2="75.50" y2="382.80" stroke="#111" stroke-width="1.2"/>
<line x1="50.50" y1="331.40" x2="50.50" y2="328.60" stroke="#040a60" stroke-width="1.2"/>
<line x1="48.55" y1="328.50" x2="52.75" y2="328.50" stroke="#040a60" stroke-width="1.2"/>
<rect x="42.90" y="331.90" width="15.50" height="47.30" fill="#08129a" stroke="#040a60" stroke-width="1"/>
<line x1="75.50" y1="312.50" x2="75.50" y2="307.20" stroke="#5a0802" stroke-width="1.2"/>
<line x1="73.85" y1="307.50" x2="78.05" y2="307.50" stroke="#5a0802" stroke-width="1.2"/>
<rect x="68.70" y="313.00" width="14.50" height="66.20" fill="#991204" stroke="#5a0802" stroke-width="1"/>
<path d="M50.50,321.30 L50.50,296.50 L76.50,296.50 L76.50,301.20" fill="none" stroke="#222" stroke-width="1.05" stroke-linejoin="miter"/>
<path d="M61.25,288.10L61.25,293.50M58.91,289.45L63.59,292.15M58.91,292.15L63.59,289.45M67.35,288.10L67.35,293.50M65.01,289.45L69.69,292.15M65.01,292.15L69.69,289.45" stroke="#505050" stroke-width="1.05" fill="none"/>
<text x="17.82" y="339.20" font-size="7.9" text-anchor="middle" fill="#111" stroke="#111" stroke-width="0.3" transform="rotate(-90 17.82 339.20)" textLength="65" lengthAdjust="spacingAndGlyphs">% p-S6K<tspan font-size="5" dy="-2.5">+</tspan><tspan dy="2.5"> T cells</tspan></text>
<text x="48.00" y="391.69" font-size="8.4" text-anchor="middle" fill="#111" stroke="#111" stroke-width="0.3" textLength="28.5" lengthAdjust="spacingAndGlyphs">Isotype</text>
<text x="79.20" y="391.69" font-size="8.4" text-anchor="middle" fill="#111" stroke="#111" stroke-width="0.3" textLength="26" lengthAdjust="spacingAndGlyphs">&#945;TIGIT</text>
<text x="117.00" y="287.10" font-size="16" fill="#000" stroke="#000" stroke-width="0.3">J</text>
<line x1="146.50" y1="298.50" x2="146.50" y2="379.90" stroke="#111" stroke-width="1.4"/>
<line x1="145.90" y1="379.50" x2="196.20" y2="379.50" stroke="#111" stroke-width="1.4"/>
<line x1="143.00" y1="299.50" x2="146.60" y2="299.50" stroke="#111" stroke-width="1.3"/>
<text x="142.10" y="301.72" font-size="8.5" text-anchor="end" fill="#111" stroke="#111" stroke-width="0.3">60</text>
<line x1="143.00" y1="325.50" x2="146.60" y2="325.50" stroke="#111" stroke-width="1.3"/>
<text x="142.10" y="328.42" font-size="8.5" text-anchor="end" fill="#111" stroke="#111" stroke-width="0.3">40</text>
<line x1="143.00" y1="352.50" x2="146.60" y2="352.50" stroke="#111" stroke-width="1.3"/>
<text x="142.10" y="355.12" font-size="8.5" text-anchor="end" fill="#111" stroke="#111" stroke-width="0.3">20</text>
<line x1="143.00" y1="379.50" x2="146.60" y2="379.50" stroke="#111" stroke-width="1.3"/>
<text x="142.10" y="381.82" font-size="8.5" text-anchor="end" fill="#111" stroke="#111" stroke-width="0.3">0</text>
<line x1="158.50" y1="379.20" x2="158.50" y2="382.80" stroke="#111" stroke-width="1.2"/>
<line x1="183.50" y1="379.20" x2="183.50" y2="382.80" stroke="#111" stroke-width="1.2"/>
<line x1="159.50" y1="335.40" x2="159.50" y2="331.70" stroke="#040a60" stroke-width="1.2"/>
<line x1="157.15" y1="331.50" x2="161.35" y2="331.50" stroke="#040a60" stroke-width="1.2"/>
<rect x="151.20" y="335.90" width="16.10" height="43.30" fill="#08129a" stroke="#040a60" stroke-width="1"/>
<line x1="184.50" y1="309.80" x2="184.50" y2="302.90" stroke="#5a0802" stroke-width="1.2"/>
<line x1="181.95" y1="302.50" x2="186.15" y2="302.50" stroke="#5a0802" stroke-width="1.2"/>
<rect x="176.60" y="310.30" width="14.90" height="68.90" fill="#991204" stroke="#5a0802" stroke-width="1"/>
<path d="M158.50,325.40 L158.50,295.50 L183.50,295.50 L183.50,300.00" fill="none" stroke="#222" stroke-width="1.05" stroke-linejoin="miter"/>
<path d="M167.85,287.50L167.85,292.90M165.51,288.85L170.19,291.55M165.51,291.55L170.19,288.85M173.95,287.50L173.95,292.90M171.61,288.85L176.29,291.55M171.61,291.55L176.29,288.85" stroke="#505050" stroke-width="1.05" fill="none"/>
<text x="125.22" y="338.80" font-size="7.9" text-anchor="middle" fill="#111" stroke="#111" stroke-width="0.3" transform="rotate(-90 125.22 338.80)" textLength="72" lengthAdjust="spacingAndGlyphs">% p-4EBP1<tspan font-size="5" dy="-2.5">+</tspan><tspan dy="2.5"> T cells</tspan></text>
<text x="158.30" y="391.39" font-size="8.4" text-anchor="middle" fill="#111" stroke="#111" stroke-width="0.3" textLength="28.1" lengthAdjust="spacingAndGlyphs">Isotype</text>
<text x="197.60" y="391.39" font-size="8.4" text-anchor="middle" fill="#111" stroke="#111" stroke-width="0.3" textLength="25.9" lengthAdjust="spacingAndGlyphs">&#945;TIGIT</text>
<text x="226.20" y="287.10" font-size="16" fill="#000" stroke="#000" stroke-width="0.3">K</text>
<line x1="258.50" y1="303.10" x2="258.50" y2="380.00" stroke="#111" stroke-width="1.4"/>
<line x1="257.60" y1="379.50" x2="308.00" y2="379.50" stroke="#111" stroke-width="1.4"/>
<line x1="254.70" y1="303.50" x2="258.30" y2="303.50" stroke="#111" stroke-width="1.3"/>
<text x="253.80" y="306.32" font-size="8.5" text-anchor="end" fill="#111" stroke="#111" stroke-width="0.3">40</text>
<line x1="254.70" y1="322.50" x2="258.30" y2="322.50" stroke="#111" stroke-width="1.3"/>
<text x="253.80" y="325.52" font-size="8.5" text-anchor="end" fill="#111" stroke="#111" stroke-width="0.3">30</text>
<line x1="254.70" y1="341.50" x2="258.30" y2="341.50" stroke="#111" stroke-width="1.3"/>
<text x="253.80" y="344.32" font-size="8.5" text-anchor="end" fill="#111" stroke="#111" stroke-width="0.3">20</text>
<line x1="254.70" y1="360.50" x2="258.30" y2="360.50" stroke="#111" stroke-width="1.3"/>
<text x="253.80" y="363.12" font-size="8.5" text-anchor="end" fill="#111" stroke="#111" stroke-width="0.3">10</text>
<line x1="254.70" y1="379.50" x2="258.30" y2="379.50" stroke="#111" stroke-width="1.3"/>
<text x="253.80" y="381.92" font-size="8.5" text-anchor="end" fill="#111" stroke="#111" stroke-width="0.3">0</text>
<line x1="270.50" y1="379.30" x2="270.50" y2="382.60" stroke="#111" stroke-width="1.2"/>
<line x1="295.50" y1="379.30" x2="295.50" y2="382.60" stroke="#111" stroke-width="1.2"/>
<line x1="271.50" y1="337.50" x2="271.50" y2="334.50" stroke="#040a60" stroke-width="1.2"/>
<line x1="269.05" y1="334.50" x2="273.25" y2="334.50" stroke="#040a60" stroke-width="1.2"/>
<rect x="263.00" y="338.00" width="16.30" height="41.30" fill="#08129a" stroke="#040a60" stroke-width="1"/>
<line x1="296.50" y1="321.30" x2="296.50" y2="315.80" stroke="#5a0802" stroke-width="1.2"/>
<line x1="294.05" y1="315.50" x2="298.25" y2="315.50" stroke="#5a0802" stroke-width="1.2"/>
<rect x="288.80" y="321.80" width="14.70" height="57.50" fill="#991204" stroke="#5a0802" stroke-width="1"/>
<path d="M270.50,329.60 L270.50,307.50 L296.50,307.50 L296.50,311.70" fill="none" stroke="#222" stroke-width="1.05" stroke-linejoin="miter"/>
<path d="M283.70,300.10L283.70,305.50M281.36,301.45L286.04,304.15M281.36,304.15L286.04,301.45" stroke="#505050" stroke-width="1.05" fill="none"/>
<text x="237.12" y="341.40" font-size="8.2" text-anchor="middle" fill="#111" stroke="#111" stroke-width="0.3" transform="rotate(-90 237.12 341.40)" textLength="69.6" lengthAdjust="spacingAndGlyphs">2-DG6P (pmol/&#956;L)</text>
<text x="267.20" y="391.69" font-size="8.4" text-anchor="middle" fill="#111" stroke="#111" stroke-width="0.3" textLength="28.9" lengthAdjust="spacingAndGlyphs">Isotype</text>
<text x="298.70" y="391.69" font-size="8.4" text-anchor="middle" fill="#111" stroke="#111" stroke-width="0.3" textLength="25.7" lengthAdjust="spacingAndGlyphs">&#945;TIGIT</text>
<text x="333.20" y="287.10" font-size="16" fill="#000" stroke="#000" stroke-width="0.3">L</text>
<line x1="370.50" y1="303.10" x2="370.50" y2="379.60" stroke="#111" stroke-width="1.4"/>
<line x1="369.40" y1="378.50" x2="418.80" y2="378.50" stroke="#111" stroke-width="1.4"/>
<line x1="366.50" y1="303.50" x2="370.10" y2="303.50" stroke="#111" stroke-width="1.3"/>
<text x="365.60" y="306.32" font-size="8.5" text-anchor="end" fill="#111" stroke="#111" stroke-width="0.3">3</text>
<line x1="366.50" y1="329.50" x2="370.10" y2="329.50" stroke="#111" stroke-width="1.3"/>
<text x="365.60" y="331.62" font-size="8.5" text-anchor="end" fill="#111" stroke="#111" stroke-width="0.3">2</text>
<line x1="366.50" y1="354.50" x2="370.10" y2="354.50" stroke="#111" stroke-width="1.3"/>
<text x="365.60" y="356.62" font-size="8.5" text-anchor="end" fill="#111" stroke="#111" stroke-width="0.3">1</text>
<line x1="366.50" y1="378.50" x2="370.10" y2="378.50" stroke="#111" stroke-width="1.3"/>
<text x="365.60" y="381.52" font-size="8.5" text-anchor="end" fill="#111" stroke="#111" stroke-width="0.3">0</text>
<line x1="382.50" y1="378.90" x2="382.50" y2="382.20" stroke="#111" stroke-width="1.2"/>
<line x1="407.50" y1="378.90" x2="407.50" y2="382.20" stroke="#111" stroke-width="1.2"/>
<line x1="382.50" y1="341.20" x2="382.50" y2="338.60" stroke="#040a60" stroke-width="1.2"/>
<line x1="380.55" y1="338.50" x2="384.75" y2="338.50" stroke="#040a60" stroke-width="1.2"/>
<rect x="375.00" y="341.70" width="15.30" height="37.20" fill="#08129a" stroke="#040a60" stroke-width="1"/>
<line x1="407.50" y1="326.40" x2="407.50" y2="320.60" stroke="#5a0802" stroke-width="1.2"/>
<line x1="405.80" y1="320.50" x2="410.00" y2="320.50" stroke="#5a0802" stroke-width="1.2"/>
<rect x="400.60" y="326.90" width="14.60" height="52.00" fill="#991204" stroke="#5a0802" stroke-width="1"/>
<path d="M382.50,334.20 L382.50,312.50 L408.50,312.50 L408.50,317.00" fill="none" stroke="#222" stroke-width="1.05" stroke-linejoin="miter"/>
<path d="M395.50,304.40L395.50,309.80M393.16,305.75L397.84,308.45M393.16,308.45L397.84,305.75" stroke="#505050" stroke-width="1.05" fill="none"/>
<text x="346.12" y="343.00" font-size="8.2" text-anchor="middle" fill="#111" stroke="#111" stroke-width="0.3" transform="rotate(-90 346.12 343.00)" textLength="73.5" lengthAdjust="spacingAndGlyphs">Lactate production</text>
<text x="355.72" y="340.50" font-size="8.2" text-anchor="middle" fill="#111" stroke="#111" stroke-width="0.3" transform="rotate(-90 355.72 340.50)" textLength="32" lengthAdjust="spacingAndGlyphs">(mmol/L)</text>
<text x="380.40" y="391.59" font-size="8.4" text-anchor="middle" fill="#111" stroke="#111" stroke-width="0.3" textLength="28.6" lengthAdjust="spacingAndGlyphs">Isotype</text>
<text x="411.30" y="391.59" font-size="8.4" text-anchor="middle" fill="#111" stroke="#111" stroke-width="0.3" textLength="25.8" lengthAdjust="spacingAndGlyphs">&#945;TIGIT</text>
<text x="2.00" y="427.60" font-size="16" fill="#000" stroke="#000" stroke-width="0.3" transform="translate(2.00 0) scale(1.08 1) translate(-2.00 0)">M</text>
<text x="70.00" y="442.49" font-size="8.4" text-anchor="middle" fill="#111" stroke="#111" stroke-width="0.3" textLength="46.4" lengthAdjust="spacingAndGlyphs">&#945;CD3/CD28</text>
<text x="168.60" y="430.89" font-size="8.4" text-anchor="middle" fill="#111" stroke="#111" stroke-width="0.3" textLength="52.6" lengthAdjust="spacingAndGlyphs">&#945;CD3/CD28 +</text>
<text x="168.50" y="440.69" font-size="8.4" text-anchor="middle" fill="#111" stroke="#111" stroke-width="0.3" textLength="71.0" lengthAdjust="spacingAndGlyphs">SGC7901+Isotype</text>
<text x="257.30" y="430.89" font-size="8.4" text-anchor="middle" fill="#111" stroke="#111" stroke-width="0.3" textLength="52.6" lengthAdjust="spacingAndGlyphs">&#945;CD3/CD28 +</text>
<text x="258.60" y="440.69" font-size="8.4" text-anchor="middle" fill="#111" stroke="#111" stroke-width="0.3" textLength="67.6" lengthAdjust="spacingAndGlyphs">SGC7901+&#945;TIGIT</text>
<rect x="32.00" y="446.60" width="79.60" height="78.00" fill="white" stroke="#c4c4c4" stroke-width="0.9"/>
<line x1="32.50" y1="446.60" x2="32.50" y2="524.60" stroke="#505050" stroke-width="0.9"/>
<line x1="32.00" y1="524.50" x2="111.60" y2="524.50" stroke="#505050" stroke-width="0.9"/>
<line x1="31.00" y1="450.50" x2="32.50" y2="450.50" stroke="#666" stroke-width="0.7"/>
<line x1="31.00" y1="459.50" x2="32.50" y2="459.50" stroke="#666" stroke-width="0.7"/>
<line x1="31.00" y1="467.50" x2="32.50" y2="467.50" stroke="#666" stroke-width="0.7"/>
<line x1="31.00" y1="476.50" x2="32.50" y2="476.50" stroke="#666" stroke-width="0.7"/>
<line x1="31.00" y1="485.50" x2="32.50" y2="485.50" stroke="#666" stroke-width="0.7"/>
<line x1="31.00" y1="493.50" x2="32.50" y2="493.50" stroke="#666" stroke-width="0.7"/>
<line x1="31.00" y1="502.50" x2="32.50" y2="502.50" stroke="#666" stroke-width="0.7"/>
<line x1="31.00" y1="510.50" x2="32.50" y2="510.50" stroke="#666" stroke-width="0.7"/>
<line x1="31.00" y1="519.50" x2="32.50" y2="519.50" stroke="#666" stroke-width="0.7"/>
<line x1="34.50" y1="524.60" x2="34.50" y2="523.60" stroke="#777" stroke-width="0.6"/>
<line x1="37.50" y1="524.60" x2="37.50" y2="523.60" stroke="#777" stroke-width="0.6"/>
<line x1="40.50" y1="524.60" x2="40.50" y2="523.60" stroke="#777" stroke-width="0.6"/>
<line x1="42.50" y1="524.60" x2="42.50" y2="523.60" stroke="#777" stroke-width="0.6"/>
<line x1="45.50" y1="524.60" x2="45.50" y2="523.60" stroke="#777" stroke-width="0.6"/>
<line x1="48.50" y1="524.60" x2="48.50" y2="523.60" stroke="#777" stroke-width="0.6"/>
<line x1="50.50" y1="524.60" x2="50.50" y2="523.60" stroke="#777" stroke-width="0.6"/>
<line x1="53.50" y1="524.60" x2="53.50" y2="523.60" stroke="#777" stroke-width="0.6"/>
<line x1="56.50" y1="524.60" x2="56.50" y2="523.60" stroke="#777" stroke-width="0.6"/>
<line x1="59.50" y1="524.60" x2="59.50" y2="523.60" stroke="#777" stroke-width="0.6"/>
<line x1="61.50" y1="524.60" x2="61.50" y2="523.60" stroke="#777" stroke-width="0.6"/>
<line x1="64.50" y1="524.60" x2="64.50" y2="523.60" stroke="#777" stroke-width="0.6"/>
<line x1="67.50" y1="524.60" x2="67.50" y2="523.60" stroke="#777" stroke-width="0.6"/>
<line x1="69.50" y1="524.60" x2="69.50" y2="523.60" stroke="#777" stroke-width="0.6"/>
<line x1="72.50" y1="524.60" x2="72.50" y2="523.60" stroke="#777" stroke-width="0.6"/>
<line x1="75.50" y1="524.60" x2="75.50" y2="523.60" stroke="#777" stroke-width="0.6"/>
<line x1="77.50" y1="524.60" x2="77.50" y2="523.60" stroke="#777" stroke-width="0.6"/>
<line x1="80.50" y1="524.60" x2="80.50" y2="523.60" stroke="#777" stroke-width="0.6"/>
<line x1="83.50" y1="524.60" x2="83.50" y2="523.60" stroke="#777" stroke-width="0.6"/>
<line x1="86.50" y1="524.60" x2="86.50" y2="523.60" stroke="#777" stroke-width="0.6"/>
<line x1="88.50" y1="524.60" x2="88.50" y2="523.60" stroke="#777" stroke-width="0.6"/>
<line x1="91.50" y1="524.60" x2="91.50" y2="523.60" stroke="#777" stroke-width="0.6"/>
<line x1="94.50" y1="524.60" x2="94.50" y2="523.60" stroke="#777" stroke-width="0.6"/>
<line x1="96.50" y1="524.60" x2="96.50" y2="523.60" stroke="#777" stroke-width="0.6"/>
<line x1="99.50" y1="524.60" x2="99.50" y2="523.60" stroke="#777" stroke-width="0.6"/>
<line x1="102.50" y1="524.60" x2="102.50" y2="523.60" stroke="#777" stroke-width="0.6"/>
<line x1="104.50" y1="524.60" x2="104.50" y2="523.60" stroke="#777" stroke-width="0.6"/>
<line x1="107.50" y1="524.60" x2="107.50" y2="523.60" stroke="#777" stroke-width="0.6"/>
<line x1="110.50" y1="524.60" x2="110.50" y2="523.60" stroke="#777" stroke-width="0.6"/>
<line x1="47.50" y1="446.60" x2="47.50" y2="524.60" stroke="#9094d4" stroke-width="0.9"/>
<line x1="32.00" y1="507.50" x2="111.60" y2="507.50" stroke="#9094d4" stroke-width="0.9"/>
<text x="106.20" y="460.42" font-size="8.2" text-anchor="end" fill="#111" stroke="#111" stroke-width="0.3">29.8%</text>
<linearGradient id="pg1" x1="0" y1="467.5" x2="0" y2="508.0" gradientUnits="userSpaceOnUse"><stop offset="0" stop-color="#d0f0d0" stop-opacity="0.35"/><stop offset="0.23" stop-color="#90d890" stop-opacity="0.7"/><stop offset="0.55" stop-color="#40b040" stop-opacity="0.9"/><stop offset="0.85" stop-color="#1c841c"/><stop offset="1" stop-color="#124a12"/></linearGradient>
<path d="M56.65,467.50 Q58.90,466.00 61.15,467.50 L63.40,485.10 L63.58,508.00 L54.22,508.00 L54.40,485.10 Z" fill="url(#pg1)" filter="url(#blur)"/>
<rect x="60.7" y="480.0" width="0.8" height="0.8" fill="#60c860" opacity="0.35"/><rect x="61.4" y="470.3" width="0.8" height="0.8" fill="#60c860" opacity="0.35"/><rect x="58.4" y="488.1" width="0.8" height="0.8" fill="#20a020" opacity="0.5"/><rect x="59.5" y="487.0" width="0.8" height="0.8" fill="#20a020" opacity="0.5"/><rect x="58.2" y="468.9" width="0.8" height="0.8" fill="#60c860" opacity="0.35"/><rect x="59.2" y="471.0" width="0.8" height="0.8" fill="#60c860" opacity="0.35"/><rect x="59.4" y="483.8" width="0.8" height="0.8" fill="#20a020" opacity="0.5"/><rect x="57.9" y="476.1" width="0.8" height="0.8" fill="#60c860" opacity="0.35"/><rect x="61.6" y="491.7" width="0.8" height="0.8" fill="#20a020" opacity="0.5"/><rect x="58.0" y="482.8" width="0.8" height="0.8" fill="#20a020" opacity="0.5"/><rect x="63.0" y="505.1" width="0.8" height="0.8" fill="#0c5a0c" opacity="0.6"/><rect x="60.1" y="478.6" width="0.8" height="0.8" fill="#60c860" opacity="0.35"/><rect x="60.3" y="473.1" width="0.8" height="0.8" fill="#60c860" opacity="0.35"/><rect x="60.1" y="498.9" width="0.8" height="0.8" fill="#0c5a0c" opacity="0.6"/><rect x="56.2" y="474.5" width="0.8" height="0.8" fill="#60c860" opacity="0.35"/><rect x="57.4" y="481.8" width="0.8" height="0.8" fill="#20a020" opacity="0.5"/><rect x="59.6" y="488.6" width="0.8" height="0.8" fill="#20a020" opacity="0.5"/><rect x="59.2" y="475.4" width="0.8" height="0.8" fill="#60c860" opacity="0.35"/><rect x="57.2" y="493.7" width="0.8" height="0.8" fill="#20a020" opacity="0.5"/><rect x="59.7" y="490.0" width="0.8" height="0.8" fill="#20a020" opacity="0.5"/><rect x="57.7" y="484.9" width="0.8" height="0.8" fill="#20a020" opacity="0.5"/><rect x="62.5" y="494.4" width="0.8" height="0.8" fill="#20a020" opacity="0.5"/><rect x="56.6" y="476.9" width="0.8" height="0.8" fill="#60c860" opacity="0.35"/><rect x="57.7" y="501.2" width="0.8" height="0.8" fill="#0c5a0c" opacity="0.6"/><rect x="57.5" y="495.6" width="0.8" height="0.8" fill="#0c5a0c" opacity="0.6"/><rect x="64.7" y="472.0" width="0.8" height="0.8" fill="#60c860" opacity="0.35"/><rect x="59.0" y="483.6" width="0.8" height="0.8" fill="#20a020" opacity="0.5"/><rect x="57.7" y="486.3" width="0.8" height="0.8" fill="#20a020" opacity="0.5"/><rect x="57.1" y="469.0" width="0.8" height="0.8" fill="#60c860" opacity="0.35"/><rect x="55.7" y="489.6" width="0.8" height="0.8" fill="#20a020" opacity="0.5"/><rect x="57.6" y="501.2" width="0.8" height="0.8" fill="#0c5a0c" opacity="0.6"/><rect x="61.9" y="490.4" width="0.8" height="0.8" fill="#20a020" opacity="0.5"/><rect x="55.0" y="489.8" width="0.8" height="0.8" fill="#20a020" opacity="0.5"/><rect x="60.0" y="503.9" width="0.8" height="0.8" fill="#0c5a0c" opacity="0.6"/><rect x="58.5" y="485.8" width="0.8" height="0.8" fill="#20a020" opacity="0.5"/><rect x="58.2" y="494.5" width="0.8" height="0.8" fill="#0c5a0c" opacity="0.6"/><rect x="62.9" y="492.4" width="0.8" height="0.8" fill="#20a020" opacity="0.5"/><rect x="58.7" y="478.5" width="0.8" height="0.8" fill="#60c860" opacity="0.35"/><rect x="58.7" y="482.4" width="0.8" height="0.8" fill="#20a020" opacity="0.5"/><rect x="58.5" y="485.3" width="0.8" height="0.8" fill="#20a020" opacity="0.5"/><rect x="59.5" y="474.0" width="0.8" height="0.8" fill="#60c860" opacity="0.35"/><rect x="59.4" y="497.1" width="0.8" height="0.8" fill="#0c5a0c" opacity="0.6"/><rect x="58.9" y="472.5" width="0.8" height="0.8" fill="#60c860" opacity="0.35"/><rect x="61.0" y="501.0" width="0.8" height="0.8" fill="#0c5a0c" opacity="0.6"/><rect x="56.3" y="470.6" width="0.8" height="0.8" fill="#60c860" opacity="0.35"/><rect x="59.7" y="501.5" width="0.8" height="0.8" fill="#0c5a0c" opacity="0.6"/><rect x="60.0" y="499.0" width="0.8" height="0.8" fill="#0c5a0c" opacity="0.6"/><rect x="57.6" y="483.5" width="0.8" height="0.8" fill="#20a020" opacity="0.5"/><rect x="62.9" y="481.3" width="0.8" height="0.8" fill="#20a020" opacity="0.5"/><rect x="55.3" y="473.3" width="0.8" height="0.8" fill="#60c860" opacity="0.35"/><rect x="59.1" y="474.3" width="0.8" height="0.8" fill="#60c860" opacity="0.35"/><rect x="60.5" y="486.2" width="0.8" height="0.8" fill="#20a020" opacity="0.5"/><rect x="58.9" y="490.2" width="0.8" height="0.8" fill="#20a020" opacity="0.5"/><rect x="59.1" y="483.6" width="0.8" height="0.8" fill="#20a020" opacity="0.5"/><rect x="54.1" y="481.7" width="0.8" height="0.8" fill="#20a020" opacity="0.5"/><rect x="56.8" y="494.1" width="0.8" height="0.8" fill="#20a020" opacity="0.5"/><rect x="56.5" y="487.3" width="0.8" height="0.8" fill="#20a020" opacity="0.5"/><rect x="56.7" y="469.6" width="0.8" height="0.8" fill="#60c860" opacity="0.35"/><rect x="59.7" y="502.1" width="0.8" height="0.8" fill="#0c5a0c" opacity="0.6"/><rect x="54.6" y="498.2" width="0.8" height="0.8" fill="#0c5a0c" opacity="0.6"/><rect x="58.1" y="482.6" width="0.8" height="0.8" fill="#20a020" opacity="0.5"/><rect x="59.5" y="491.9" width="0.8" height="0.8" fill="#20a020" opacity="0.5"/><rect x="60.2" y="469.9" width="0.8" height="0.8" fill="#60c860" opacity="0.35"/><rect x="59.5" y="473.7" width="0.8" height="0.8" fill="#60c860" opacity="0.35"/><rect x="58.9" y="480.6" width="0.8" height="0.8" fill="#60c860" opacity="0.35"/><rect x="58.9" y="473.3" width="0.8" height="0.8" fill="#60c860" opacity="0.35"/><rect x="58.6" y="471.4" width="0.8" height="0.8" fill="#60c860" opacity="0.35"/><rect x="59.3" y="501.2" width="0.8" height="0.8" fill="#0c5a0c" opacity="0.6"/><rect x="59.9" y="491.1" width="0.8" height="0.8" fill="#20a020" opacity="0.5"/><rect x="60.2" y="480.9" width="0.8" height="0.8" fill="#60c860" opacity="0.35"/><rect x="61.9" y="481.5" width="0.8" height="0.8" fill="#20a020" opacity="0.5"/><rect x="61.8" y="505.7" width="0.8" height="0.8" fill="#0c5a0c" opacity="0.6"/><rect x="58.0" y="485.4" width="0.8" height="0.8" fill="#20a020" opacity="0.5"/><rect x="59.0" y="471.4" width="0.8" height="0.8" fill="#60c860" opacity="0.35"/><rect x="58.5" y="480.7" width="0.8" height="0.8" fill="#60c860" opacity="0.35"/><rect x="62.9" y="473.7" width="0.8" height="0.8" fill="#60c860" opacity="0.35"/><rect x="61.4" y="468.4" width="0.8" height="0.8" fill="#60c860" opacity="0.35"/><rect x="58.1" y="473.1" width="0.8" height="0.8" fill="#60c860" opacity="0.35"/><rect x="61.5" y="488.4" width="0.8" height="0.8" fill="#20a020" opacity="0.5"/><rect x="59.3" y="505.2" width="0.8" height="0.8" fill="#0c5a0c" opacity="0.6"/><rect x="58.3" y="500.7" width="0.8" height="0.8" fill="#0c5a0c" opacity="0.6"/><rect x="57.3" y="481.6" width="0.8" height="0.8" fill="#20a020" opacity="0.5"/><rect x="59.3" y="473.9" width="0.8" height="0.8" fill="#60c860" opacity="0.35"/><rect x="56.3" y="497.5" width="0.8" height="0.8" fill="#0c5a0c" opacity="0.6"/><rect x="59.6" y="480.2" width="0.8" height="0.8" fill="#60c860" opacity="0.35"/><rect x="62.8" y="505.4" width="0.8" height="0.8" fill="#0c5a0c" opacity="0.6"/><rect x="60.3" y="500.3" width="0.8" height="0.8" fill="#0c5a0c" opacity="0.6"/><rect x="55.2" y="496.0" width="0.8" height="0.8" fill="#0c5a0c" opacity="0.6"/><rect x="56.9" y="476.2" width="0.8" height="0.8" fill="#60c860" opacity="0.35"/><rect x="58.7" y="468.6" width="0.8" height="0.8" fill="#60c860" opacity="0.35"/><rect x="58.6" y="468.6" width="0.8" height="0.8" fill="#60c860" opacity="0.35"/><rect x="60.5" y="494.2" width="0.8" height="0.8" fill="#20a020" opacity="0.5"/><rect x="54.1" y="504.3" width="0.8" height="0.8" fill="#0c5a0c" opacity="0.6"/><rect x="60.5" y="505.5" width="0.8" height="0.8" fill="#0c5a0c" opacity="0.6"/><rect x="57.9" y="504.3" width="0.8" height="0.8" fill="#0c5a0c" opacity="0.6"/><rect x="60.0" y="476.2" width="0.8" height="0.8" fill="#60c860" opacity="0.35"/><rect x="59.7" y="475.1" width="0.8" height="0.8" fill="#60c860" opacity="0.35"/><rect x="61.8" y="502.2" width="0.8" height="0.8" fill="#0c5a0c" opacity="0.6"/><rect x="55.8" y="499.9" width="0.8" height="0.8" fill="#0c5a0c" opacity="0.6"/><rect x="59.3" y="498.3" width="0.8" height="0.8" fill="#0c5a0c" opacity="0.6"/><rect x="56.4" y="470.8" width="0.8" height="0.8" fill="#60c860" opacity="0.35"/><rect x="54.9" y="497.6" width="0.8" height="0.8" fill="#0c5a0c" opacity="0.6"/><rect x="57.6" y="496.4" width="0.8" height="0.8" fill="#0c5a0c" opacity="0.6"/><rect x="59.1" y="497.9" width="0.8" height="0.8" fill="#0c5a0c" opacity="0.6"/><rect x="60.7" y="480.3" width="0.8" height="0.8" fill="#60c860" opacity="0.35"/><rect x="53.5" y="482.7" width="0.8" height="0.8" fill="#20a020" opacity="0.5"/><rect x="62.2" y="483.0" width="0.8" height="0.8" fill="#20a020" opacity="0.5"/><rect x="57.8" y="474.0" width="0.8" height="0.8" fill="#60c860" opacity="0.35"/><rect x="61.6" y="472.4" width="0.8" height="0.8" fill="#60c860" opacity="0.35"/><rect x="62.7" y="498.6" width="0.8" height="0.8" fill="#0c5a0c" opacity="0.6"/><rect x="61.7" y="473.1" width="0.8" height="0.8" fill="#60c860" opacity="0.35"/><rect x="53.6" y="492.8" width="0.8" height="0.8" fill="#20a020" opacity="0.5"/><rect x="57.8" y="481.0" width="0.8" height="0.8" fill="#20a020" opacity="0.5"/><rect x="58.6" y="468.0" width="0.8" height="0.8" fill="#60c860" opacity="0.35"/><rect x="57.4" y="504.9" width="0.8" height="0.8" fill="#0c5a0c" opacity="0.6"/><rect x="56.8" y="503.4" width="0.8" height="0.8" fill="#0c5a0c" opacity="0.6"/><rect x="61.7" y="484.2" width="0.8" height="0.8" fill="#20a020" opacity="0.5"/><rect x="56.0" y="475.6" width="0.8" height="0.8" fill="#60c860" opacity="0.35"/><rect x="58.5" y="477.2" width="0.8" height="0.8" fill="#60c860" opacity="0.35"/><rect x="60.4" y="490.1" width="0.8" height="0.8" fill="#20a020" opacity="0.5"/><rect x="57.9" y="477.5" width="0.8" height="0.8" fill="#60c860" opacity="0.35"/><rect x="59.5" y="502.5" width="0.8" height="0.8" fill="#0c5a0c" opacity="0.6"/><rect x="56.2" y="481.1" width="0.8" height="0.8" fill="#20a020" opacity="0.5"/><rect x="59.6" y="502.3" width="0.8" height="0.8" fill="#0c5a0c" opacity="0.6"/><rect x="61.1" y="483.7" width="0.8" height="0.8" fill="#20a020" opacity="0.5"/><rect x="57.7" y="488.0" width="0.8" height="0.8" fill="#20a020" opacity="0.5"/><rect x="61.2" y="487.7" width="0.8" height="0.8" fill="#20a020" opacity="0.5"/><rect x="59.2" y="474.5" width="0.8" height="0.8" fill="#60c860" opacity="0.35"/><rect x="59.3" y="467.7" width="0.8" height="0.8" fill="#60c860" opacity="0.35"/><rect x="57.6" y="485.7" width="0.8" height="0.8" fill="#20a020" opacity="0.5"/><rect x="57.1" y="495.4" width="0.8" height="0.8" fill="#0c5a0c" opacity="0.6"/><rect x="58.2" y="487.5" width="0.8" height="0.8" fill="#20a020" opacity="0.5"/><rect x="59.1" y="488.9" width="0.8" height="0.8" fill="#20a020" opacity="0.5"/><rect x="57.9" y="489.1" width="0.8" height="0.8" fill="#20a020" opacity="0.5"/><rect x="58.3" y="477.1" width="0.8" height="0.8" fill="#60c860" opacity="0.35"/><rect x="62.5" y="487.0" width="0.8" height="0.8" fill="#20a020" opacity="0.5"/><rect x="59.2" y="489.1" width="0.8" height="0.8" fill="#20a020" opacity="0.5"/><rect x="54.2" y="484.6" width="0.8" height="0.8" fill="#20a020" opacity="0.5"/><rect x="56.3" y="491.1" width="0.8" height="0.8" fill="#20a020" opacity="0.5"/><rect x="58.8" y="494.2" width="0.8" height="0.8" fill="#20a020" opacity="0.5"/><rect x="56.5" y="484.9" width="0.8" height="0.8" fill="#20a020" opacity="0.5"/><rect x="58.4" y="503.7" width="0.8" height="0.8" fill="#0c5a0c" opacity="0.6"/><rect x="62.6" y="494.4" width="0.8" height="0.8" fill="#20a020" opacity="0.5"/><rect x="55.3" y="477.5" width="0.8" height="0.8" fill="#60c860" opacity="0.35"/><rect x="62.7" y="489.0" width="0.8" height="0.8" fill="#20a020" opacity="0.5"/><rect x="57.5" y="472.8" width="0.8" height="0.8" fill="#60c860" opacity="0.35"/><rect x="58.1" y="472.2" width="0.8" height="0.8" fill="#60c860" opacity="0.35"/><rect x="59.2" y="476.8" width="0.8" height="0.8" fill="#60c860" opacity="0.35"/><rect x="57.1" y="470.3" width="0.8" height="0.8" fill="#60c860" opacity="0.35"/><rect x="55.6" y="502.0" width="0.8" height="0.8" fill="#0c5a0c" opacity="0.6"/><rect x="58.2" y="473.4" width="0.8" height="0.8" fill="#60c860" opacity="0.35"/><rect x="55.8" y="473.0" width="0.8" height="0.8" fill="#60c860" opacity="0.35"/><rect x="60.4" y="501.5" width="0.8" height="0.8" fill="#0c5a0c" opacity="0.6"/><rect x="58.6" y="504.2" width="0.8" height="0.8" fill="#0c5a0c" opacity="0.6"/><rect x="52.4" y="482.8" width="0.8" height="0.8" fill="#20a020" opacity="0.5"/><rect x="59.4" y="499.5" width="0.8" height="0.8" fill="#0c5a0c" opacity="0.6"/><rect x="56.6" y="473.7" width="0.8" height="0.8" fill="#60c860" opacity="0.35"/><rect x="60.0" y="480.6" width="0.8" height="0.8" fill="#60c860" opacity="0.35"/><rect x="57.5" y="475.0" width="0.8" height="0.8" fill="#60c860" opacity="0.35"/><rect x="62.0" y="468.3" width="0.8" height="0.8" fill="#60c860" opacity="0.35"/><rect x="58.5" y="488.8" width="0.8" height="0.8" fill="#20a020" opacity="0.5"/><rect x="59.0" y="480.3" width="0.8" height="0.8" fill="#60c860" opacity="0.35"/><rect x="58.1" y="491.5" width="0.8" height="0.8" fill="#20a020" opacity="0.5"/><rect x="58.8" y="505.4" width="0.8" height="0.8" fill="#0c5a0c" opacity="0.6"/><rect x="59.9" y="497.9" width="0.8" height="0.8" fill="#0c5a0c" opacity="0.6"/><rect x="58.7" y="477.7" width="0.8" height="0.8" fill="#60c860" opacity="0.35"/><rect x="59.2" y="469.0" width="0.8" height="0.8" fill="#60c860" opacity="0.35"/><rect x="57.2" y="472.5" width="0.8" height="0.8" fill="#60c860" opacity="0.35"/><rect x="62.3" y="483.8" width="0.8" height="0.8" fill="#20a020" opacity="0.5"/><rect x="56.8" y="477.5" width="0.8" height="0.8" fill="#60c860" opacity="0.35"/><rect x="61.3" y="473.3" width="0.8" height="0.8" fill="#60c860" opacity="0.35"/><rect x="57.5" y="494.5" width="0.8" height="0.8" fill="#0c5a0c" opacity="0.6"/><rect x="62.0" y="470.9" width="0.8" height="0.8" fill="#60c860" opacity="0.35"/><rect x="60.1" y="483.9" width="0.8" height="0.8" fill="#20a020" opacity="0.5"/><rect x="61.7" y="470.3" width="0.8" height="0.8" fill="#60c860" opacity="0.35"/><rect x="57.8" y="498.4" width="0.8" height="0.8" fill="#0c5a0c" opacity="0.6"/><rect x="59.4" y="470.7" width="0.8" height="0.8" fill="#60c860" opacity="0.35"/><rect x="58.3" y="500.7" width="0.8" height="0.8" fill="#0c5a0c" opacity="0.6"/><rect x="57.5" y="485.0" width="0.8" height="0.8" fill="#20a020" opacity="0.5"/><rect x="61.2" y="503.2" width="0.8" height="0.8" fill="#0c5a0c" opacity="0.6"/><rect x="60.7" y="477.8" width="0.8" height="0.8" fill="#60c860" opacity="0.35"/><rect x="60.8" y="476.7" width="0.8" height="0.8" fill="#60c860" opacity="0.35"/><rect x="59.3" y="471.7" width="0.8" height="0.8" fill="#60c860" opacity="0.35"/><rect x="59.5" y="475.3" width="0.8" height="0.8" fill="#60c860" opacity="0.35"/><rect x="57.7" y="479.5" width="0.8" height="0.8" fill="#60c860" opacity="0.35"/><rect x="62.3" y="478.7" width="0.8" height="0.8" fill="#60c860" opacity="0.35"/><rect x="59.8" y="486.8" width="0.8" height="0.8" fill="#20a020" opacity="0.5"/><rect x="60.7" y="468.2" width="0.8" height="0.8" fill="#60c860" opacity="0.35"/><rect x="62.4" y="477.1" width="0.8" height="0.8" fill="#60c860" opacity="0.35"/><rect x="59.2" y="488.7" width="0.8" height="0.8" fill="#20a020" opacity="0.5"/><rect x="54.0" y="474.8" width="0.8" height="0.8" fill="#60c860" opacity="0.35"/><rect x="59.7" y="471.6" width="0.8" height="0.8" fill="#60c860" opacity="0.35"/><rect x="56.6" y="499.0" width="0.8" height="0.8" fill="#0c5a0c" opacity="0.6"/><rect x="59.9" y="499.6" width="0.8" height="0.8" fill="#0c5a0c" opacity="0.6"/><rect x="55.6" y="482.6" width="0.8" height="0.8" fill="#20a020" opacity="0.5"/><rect x="58.8" y="505.3" width="0.8" height="0.8" fill="#0c5a0c" opacity="0.6"/><rect x="60.6" y="480.7" width="0.8" height="0.8" fill="#60c860" opacity="0.35"/><rect x="56.0" y="492.0" width="0.8" height="0.8" fill="#20a020" opacity="0.5"/><rect x="58.5" y="483.1" width="0.8" height="0.8" fill="#20a020" opacity="0.5"/><rect x="59.5" y="472.5" width="0.8" height="0.8" fill="#60c860" opacity="0.35"/><rect x="58.8" y="470.2" width="0.8" height="0.8" fill="#60c860" opacity="0.35"/><rect x="57.3" y="473.8" width="0.8" height="0.8" fill="#60c860" opacity="0.35"/><rect x="61.3" y="470.8" width="0.8" height="0.8" fill="#60c860" opacity="0.35"/><rect x="55.3" y="493.3" width="0.8" height="0.8" fill="#20a020" opacity="0.5"/><rect x="59.0" y="478.4" width="0.8" height="0.8" fill="#60c860" opacity="0.35"/><rect x="60.7" y="485.2" width="0.8" height="0.8" fill="#20a020" opacity="0.5"/><rect x="57.3" y="473.6" width="0.8" height="0.8" fill="#60c860" opacity="0.35"/><rect x="59.5" y="504.5" width="0.8" height="0.8" fill="#0c5a0c" opacity="0.6"/><rect x="57.4" y="504.9" width="0.8" height="0.8" fill="#0c5a0c" opacity="0.6"/><rect x="58.4" y="504.7" width="0.8" height="0.8" fill="#0c5a0c" opacity="0.6"/><rect x="58.8" y="479.4" width="0.8" height="0.8" fill="#60c860" opacity="0.35"/><rect x="59.0" y="482.2" width="0.8" height="0.8" fill="#20a020" opacity="0.5"/><rect x="57.5" y="485.8" width="0.8" height="0.8" fill="#20a020" opacity="0.5"/><rect x="58.9" y="486.9" width="0.8" height="0.8" fill="#20a020" opacity="0.5"/><rect x="58.8" y="467.7" width="0.8" height="0.8" fill="#60c860" opacity="0.35"/><rect x="59.8" y="482.9" width="0.8" height="0.8" fill="#20a020" opacity="0.5"/><rect x="60.7" y="469.1" width="0.8" height="0.8" fill="#60c860" opacity="0.35"/><rect x="59.2" y="476.5" width="0.8" height="0.8" fill="#60c860" opacity="0.35"/><rect x="55.4" y="490.0" width="0.8" height="0.8" fill="#20a020" opacity="0.5"/><rect x="58.2" y="492.8" width="0.8" height="0.8" fill="#20a020" opacity="0.5"/><rect x="60.4" y="495.1" width="0.8" height="0.8" fill="#0c5a0c" opacity="0.6"/><rect x="57.4" y="480.1" width="0.8" height="0.8" fill="#60c860" opacity="0.35"/><rect x="60.9" y="505.4" width="0.8" height="0.8" fill="#0c5a0c" opacity="0.6"/><rect x="61.7" y="492.3" width="0.8" height="0.8" fill="#20a020" opacity="0.5"/><rect x="61.2" y="469.2" width="0.8" height="0.8" fill="#60c860" opacity="0.35"/><rect x="55.0" y="491.7" width="0.8" height="0.8" fill="#20a020" opacity="0.5"/><rect x="59.3" y="495.8" width="0.8" height="0.8" fill="#0c5a0c" opacity="0.6"/><rect x="57.8" y="487.7" width="0.8" height="0.8" fill="#20a020" opacity="0.5"/><rect x="60.9" y="486.9" width="0.8" height="0.8" fill="#20a020" opacity="0.5"/><rect x="55.6" y="499.3" width="0.8" height="0.8" fill="#0c5a0c" opacity="0.6"/><rect x="61.4" y="490.0" width="0.8" height="0.8" fill="#20a020" opacity="0.5"/><rect x="56.9" y="494.2" width="0.8" height="0.8" fill="#20a020" opacity="0.5"/><rect x="60.0" y="476.4" width="0.8" height="0.8" fill="#60c860" opacity="0.35"/><rect x="59.1" y="481.4" width="0.8" height="0.8" fill="#20a020" opacity="0.5"/><rect x="60.3" y="471.5" width="0.8" height="0.8" fill="#60c860" opacity="0.35"/><rect x="56.5" y="491.7" width="0.8" height="0.8" fill="#20a020" opacity="0.5"/><rect x="57.9" y="491.6" width="0.8" height="0.8" fill="#20a020" opacity="0.5"/><rect x="56.6" y="467.6" width="0.8" height="0.8" fill="#60c860" opacity="0.35"/><rect x="58.9" y="498.2" width="0.8" height="0.8" fill="#0c5a0c" opacity="0.6"/><rect x="56.4" y="488.1" width="0.8" height="0.8" fill="#20a020" opacity="0.5"/><rect x="62.1" y="492.9" width="0.8" height="0.8" fill="#20a020" opacity="0.5"/><rect x="60.3" y="477.2" width="0.8" height="0.8" fill="#60c860" opacity="0.35"/><rect x="58.6" y="470.4" width="0.8" height="0.8" fill="#60c860" opacity="0.35"/><rect x="62.3" y="475.4" width="0.8" height="0.8" fill="#60c860" opacity="0.35"/><rect x="61.4" y="496.0" width="0.8" height="0.8" fill="#0c5a0c" opacity="0.6"/><rect x="58.5" y="482.2" width="0.8" height="0.8" fill="#20a020" opacity="0.5"/><rect x="57.4" y="485.9" width="0.8" height="0.8" fill="#20a020" opacity="0.5"/><rect x="55.6" y="491.3" width="0.8" height="0.8" fill="#20a020" opacity="0.5"/><rect x="60.0" y="492.2" width="0.8" height="0.8" fill="#20a020" opacity="0.5"/><rect x="59.5" y="477.3" width="0.8" height="0.8" fill="#60c860" opacity="0.35"/><rect x="58.0" y="496.1" width="0.8" height="0.8" fill="#0c5a0c" opacity="0.6"/><rect x="61.5" y="468.0" width="0.8" height="0.8" fill="#60c860" opacity="0.35"/><rect x="58.5" y="469.8" width="0.8" height="0.8" fill="#60c860" opacity="0.35"/><rect x="62.1" y="494.1" width="0.8" height="0.8" fill="#20a020" opacity="0.5"/><rect x="58.2" y="493.5" width="0.8" height="0.8" fill="#20a020" opacity="0.5"/><rect x="61.4" y="485.4" width="0.8" height="0.8" fill="#20a020" opacity="0.5"/><rect x="62.2" y="485.5" width="0.8" height="0.8" fill="#20a020" opacity="0.5"/><rect x="62.0" y="475.2" width="0.8" height="0.8" fill="#60c860" opacity="0.35"/><rect x="59.3" y="505.2" width="0.8" height="0.8" fill="#0c5a0c" opacity="0.6"/><rect x="58.7" y="485.2" width="0.8" height="0.8" fill="#20a020" opacity="0.5"/>
<ellipse cx="58.90" cy="511.80" rx="5.20" ry="7.80" fill="#061406" filter="url(#blur)"/>
<rect x="61.1" y="504.9" width="0.8" height="0.8" fill="#000" opacity="0.5"/><rect x="56.3" y="513.1" width="0.8" height="0.8" fill="#000" opacity="0.5"/><rect x="60.2" y="519.1" width="0.8" height="0.8" fill="#000" opacity="0.5"/><rect x="59.9" y="517.6" width="0.8" height="0.8" fill="#000" opacity="0.5"/><rect x="61.3" y="516.2" width="0.8" height="0.8" fill="#000" opacity="0.5"/><rect x="60.7" y="511.0" width="0.8" height="0.8" fill="#000" opacity="0.5"/><rect x="60.5" y="506.8" width="0.8" height="0.8" fill="#000" opacity="0.5"/><rect x="62.2" y="507.5" width="0.8" height="0.8" fill="#000" opacity="0.5"/><rect x="59.5" y="519.1" width="0.8" height="0.8" fill="#000" opacity="0.5"/><rect x="58.1" y="511.9" width="0.8" height="0.8" fill="#000" opacity="0.5"/><rect x="62.5" y="511.9" width="0.8" height="0.8" fill="#000" opacity="0.5"/><rect x="56.2" y="513.1" width="0.8" height="0.8" fill="#000" opacity="0.5"/><rect x="60.8" y="515.3" width="0.8" height="0.8" fill="#000" opacity="0.5"/><rect x="57.0" y="518.3" width="0.8" height="0.8" fill="#000" opacity="0.5"/><rect x="63.4" y="511.9" width="0.8" height="0.8" fill="#000" opacity="0.5"/><rect x="59.9" y="509.5" width="0.8" height="0.8" fill="#000" opacity="0.5"/><rect x="62.8" y="508.9" width="0.8" height="0.8" fill="#000" opacity="0.5"/><rect x="61.2" y="509.4" width="0.8" height="0.8" fill="#000" opacity="0.5"/><rect x="56.6" y="515.3" width="0.8" height="0.8" fill="#000" opacity="0.5"/><rect x="62.9" y="511.8" width="0.8" height="0.8" fill="#000" opacity="0.5"/><rect x="56.7" y="515.7" width="0.8" height="0.8" fill="#000" opacity="0.5"/><rect x="58.7" y="513.5" width="0.8" height="0.8" fill="#000" opacity="0.5"/><rect x="62.7" y="516.1" width="0.8" height="0.8" fill="#000" opacity="0.5"/><rect x="57.8" y="519.2" width="0.8" height="0.8" fill="#000" opacity="0.5"/><rect x="58.9" y="515.8" width="0.8" height="0.8" fill="#000" opacity="0.5"/><rect x="56.6" y="511.6" width="0.8" height="0.8" fill="#000" opacity="0.5"/><rect x="55.3" y="517.2" width="0.8" height="0.8" fill="#000" opacity="0.5"/><rect x="62.4" y="507.1" width="0.8" height="0.8" fill="#000" opacity="0.5"/><rect x="55.5" y="506.3" width="0.8" height="0.8" fill="#000" opacity="0.5"/><rect x="62.5" y="509.7" width="0.8" height="0.8" fill="#000" opacity="0.5"/><rect x="58.7" y="510.1" width="0.8" height="0.8" fill="#000" opacity="0.5"/><rect x="58.5" y="506.6" width="0.8" height="0.8" fill="#000" opacity="0.5"/><rect x="59.0" y="505.5" width="0.8" height="0.8" fill="#000" opacity="0.5"/><rect x="58.6" y="513.5" width="0.8" height="0.8" fill="#000" opacity="0.5"/><rect x="60.6" y="510.6" width="0.8" height="0.8" fill="#000" opacity="0.5"/><rect x="55.9" y="512.6" width="0.8" height="0.8" fill="#000" opacity="0.5"/><rect x="57.6" y="518.2" width="0.8" height="0.8" fill="#000" opacity="0.5"/><rect x="61.5" y="511.2" width="0.8" height="0.8" fill="#000" opacity="0.5"/><rect x="57.3" y="508.2" width="0.8" height="0.8" fill="#000" opacity="0.5"/><rect x="55.8" y="510.1" width="0.8" height="0.8" fill="#000" opacity="0.5"/><rect x="59.9" y="514.5" width="0.8" height="0.8" fill="#000" opacity="0.5"/><rect x="60.2" y="519.0" width="0.8" height="0.8" fill="#000" opacity="0.5"/><rect x="56.5" y="511.9" width="0.8" height="0.8" fill="#000" opacity="0.5"/><rect x="63.2" y="507.5" width="0.8" height="0.8" fill="#000" opacity="0.5"/><rect x="57.1" y="512.7" width="0.8" height="0.8" fill="#000" opacity="0.5"/><rect x="59.5" y="514.0" width="0.8" height="0.8" fill="#000" opacity="0.5"/><rect x="58.0" y="513.8" width="0.8" height="0.8" fill="#000" opacity="0.5"/><rect x="59.1" y="515.8" width="0.8" height="0.8" fill="#000" opacity="0.5"/><rect x="54.5" y="508.7" width="0.8" height="0.8" fill="#000" opacity="0.5"/><rect x="58.9" y="506.8" width="0.8" height="0.8" fill="#000" opacity="0.5"/><rect x="55.7" y="514.7" width="0.8" height="0.8" fill="#000" opacity="0.5"/><rect x="56.7" y="515.0" width="0.8" height="0.8" fill="#000" opacity="0.5"/><rect x="61.4" y="513.4" width="0.8" height="0.8" fill="#000" opacity="0.5"/><rect x="60.7" y="511.2" width="0.8" height="0.8" fill="#000" opacity="0.5"/><rect x="54.8" y="511.7" width="0.8" height="0.8" fill="#000" opacity="0.5"/><rect x="60.5" y="509.0" width="0.8" height="0.8" fill="#000" opacity="0.5"/><rect x="58.6" y="515.7" width="0.8" height="0.8" fill="#000" opacity="0.5"/><rect x="56.1" y="514.9" width="0.8" height="0.8" fill="#000" opacity="0.5"/><rect x="63.5" y="509.7" width="0.8" height="0.8" fill="#000" opacity="0.5"/><rect x="59.4" y="511.0" width="0.8" height="0.8" fill="#000" opacity="0.5"/><rect x="63.2" y="513.1" width="0.8" height="0.8" fill="#000" opacity="0.5"/><rect x="61.7" y="508.5" width="0.8" height="0.8" fill="#000" opacity="0.5"/><rect x="58.8" y="511.7" width="0.8" height="0.8" fill="#000" opacity="0.5"/><rect x="55.0" y="516.5" width="0.8" height="0.8" fill="#000" opacity="0.5"/><rect x="61.1" y="505.4" width="0.8" height="0.8" fill="#000" opacity="0.5"/><rect x="61.5" y="511.1" width="0.8" height="0.8" fill="#000" opacity="0.5"/><rect x="60.5" y="513.7" width="0.8" height="0.8" fill="#000" opacity="0.5"/><rect x="54.6" y="510.9" width="0.8" height="0.8" fill="#000" opacity="0.5"/><rect x="63.0" y="509.4" width="0.8" height="0.8" fill="#000" opacity="0.5"/><rect x="56.2" y="506.3" width="0.8" height="0.8" fill="#000" opacity="0.5"/><rect x="55.2" y="513.3" width="0.8" height="0.8" fill="#000" opacity="0.5"/><rect x="63.4" y="513.5" width="0.8" height="0.8" fill="#000" opacity="0.5"/><rect x="59.4" y="519.2" width="0.8" height="0.8" fill="#000" opacity="0.5"/><rect x="57.2" y="508.4" width="0.8" height="0.8" fill="#000" opacity="0.5"/><rect x="60.7" y="514.6" width="0.8" height="0.8" fill="#000" opacity="0.5"/><rect x="56.1" y="506.9" width="0.8" height="0.8" fill="#000" opacity="0.5"/><rect x="60.0" y="513.1" width="0.8" height="0.8" fill="#000" opacity="0.5"/><rect x="55.0" y="510.9" width="0.8" height="0.8" fill="#000" opacity="0.5"/><rect x="57.0" y="514.2" width="0.8" height="0.8" fill="#000" opacity="0.5"/><rect x="58.5" y="511.3" width="0.8" height="0.8" fill="#000" opacity="0.5"/><rect x="57.8" y="516.8" width="0.8" height="0.8" fill="#000" opacity="0.5"/><rect x="62.9" y="510.2" width="0.8" height="0.8" fill="#000" opacity="0.5"/><rect x="61.6" y="508.2" width="0.8" height="0.8" fill="#000" opacity="0.5"/><rect x="59.1" y="515.7" width="0.8" height="0.8" fill="#000" opacity="0.5"/><rect x="63.1" y="510.2" width="0.8" height="0.8" fill="#000" opacity="0.5"/><rect x="58.6" y="512.9" width="0.8" height="0.8" fill="#000" opacity="0.5"/><rect x="54.6" y="511.9" width="0.8" height="0.8" fill="#000" opacity="0.5"/><rect x="56.6" y="513.7" width="0.8" height="0.8" fill="#000" opacity="0.5"/><rect x="56.4" y="505.3" width="0.8" height="0.8" fill="#000" opacity="0.5"/><rect x="59.0" y="513.2" width="0.8" height="0.8" fill="#000" opacity="0.5"/><rect x="57.1" y="516.1" width="0.8" height="0.8" fill="#000" opacity="0.5"/><rect x="57.9" y="508.6" width="0.8" height="0.8" fill="#000" opacity="0.5"/><rect x="60.2" y="505.4" width="0.8" height="0.8" fill="#000" opacity="0.5"/><rect x="56.5" y="511.7" width="0.8" height="0.8" fill="#000" opacity="0.5"/><rect x="61.8" y="511.0" width="0.8" height="0.8" fill="#000" opacity="0.5"/><rect x="60.0" y="508.4" width="0.8" height="0.8" fill="#000" opacity="0.5"/><rect x="59.7" y="518.5" width="0.8" height="0.8" fill="#000" opacity="0.5"/><rect x="57.5" y="519.1" width="0.8" height="0.8" fill="#000" opacity="0.5"/><rect x="56.7" y="511.9" width="0.8" height="0.8" fill="#000" opacity="0.5"/><rect x="59.5" y="516.8" width="0.8" height="0.8" fill="#000" opacity="0.5"/><rect x="56.3" y="505.3" width="0.8" height="0.8" fill="#000" opacity="0.5"/><rect x="60.9" y="515.7" width="0.8" height="0.8" fill="#000" opacity="0.5"/><rect x="60.1" y="519.3" width="0.8" height="0.8" fill="#000" opacity="0.5"/><rect x="59.6" y="513.2" width="0.8" height="0.8" fill="#000" opacity="0.5"/><rect x="61.9" y="513.6" width="0.8" height="0.8" fill="#000" opacity="0.5"/><rect x="62.8" y="507.4" width="0.8" height="0.8" fill="#000" opacity="0.5"/><rect x="58.3" y="504.1" width="0.8" height="0.8" fill="#000" opacity="0.5"/><rect x="61.6" y="509.9" width="0.8" height="0.8" fill="#000" opacity="0.5"/><rect x="60.9" y="518.7" width="0.8" height="0.8" fill="#000" opacity="0.5"/><rect x="58.9" y="510.4" width="0.8" height="0.8" fill="#000" opacity="0.5"/><rect x="57.3" y="507.7" width="0.8" height="0.8" fill="#000" opacity="0.5"/><rect x="56.8" y="515.0" width="0.8" height="0.8" fill="#000" opacity="0.5"/><rect x="59.0" y="512.2" width="0.8" height="0.8" fill="#000" opacity="0.5"/><rect x="58.3" y="516.3" width="0.8" height="0.8" fill="#000" opacity="0.5"/><rect x="60.7" y="511.0" width="0.8" height="0.8" fill="#000" opacity="0.5"/><rect x="61.2" y="511.0" width="0.8" height="0.8" fill="#000" opacity="0.5"/><rect x="56.0" y="517.3" width="0.8" height="0.8" fill="#000" opacity="0.5"/><rect x="60.4" y="507.2" width="0.8" height="0.8" fill="#000" opacity="0.5"/><rect x="62.3" y="513.4" width="0.8" height="0.8" fill="#000" opacity="0.5"/><rect x="55.4" y="517.2" width="0.8" height="0.8" fill="#000" opacity="0.5"/>
<rect x="123.30" y="446.80" width="80.90" height="78.40" fill="white" stroke="#c4c4c4" stroke-width="0.9"/>
<line x1="123.50" y1="446.80" x2="123.50" y2="525.20" stroke="#505050" stroke-width="0.9"/>
<line x1="123.30" y1="525.50" x2="204.20" y2="525.50" stroke="#505050" stroke-width="0.9"/>
<line x1="122.30" y1="450.50" x2="123.80" y2="450.50" stroke="#666" stroke-width="0.7"/>
<line x1="122.30" y1="459.50" x2="123.80" y2="459.50" stroke="#666" stroke-width="0.7"/>
<line x1="122.30" y1="468.50" x2="123.80" y2="468.50" stroke="#666" stroke-width="0.7"/>
<line x1="122.30" y1="476.50" x2="123.80" y2="476.50" stroke="#666" stroke-width="0.7"/>
<line x1="122.30" y1="485.50" x2="123.80" y2="485.50" stroke="#666" stroke-width="0.7"/>
<line x1="122.30" y1="493.50" x2="123.80" y2="493.50" stroke="#666" stroke-width="0.7"/>
<line x1="122.30" y1="502.50" x2="123.80" y2="502.50" stroke="#666" stroke-width="0.7"/>
<line x1="122.30" y1="511.50" x2="123.80" y2="511.50" stroke="#666" stroke-width="0.7"/>
<line x1="122.30" y1="519.50" x2="123.80" y2="519.50" stroke="#666" stroke-width="0.7"/>
<line x1="126.50" y1="525.20" x2="126.50" y2="524.20" stroke="#777" stroke-width="0.6"/>
<line x1="128.50" y1="525.20" x2="128.50" y2="524.20" stroke="#777" stroke-width="0.6"/>
<line x1="131.50" y1="525.20" x2="131.50" y2="524.20" stroke="#777" stroke-width="0.6"/>
<line x1="134.50" y1="525.20" x2="134.50" y2="524.20" stroke="#777" stroke-width="0.6"/>
<line x1="136.50" y1="525.20" x2="136.50" y2="524.20" stroke="#777" stroke-width="0.6"/>
<line x1="139.50" y1="525.20" x2="139.50" y2="524.20" stroke="#777" stroke-width="0.6"/>
<line x1="142.50" y1="525.20" x2="142.50" y2="524.20" stroke="#777" stroke-width="0.6"/>
<line x1="144.50" y1="525.20" x2="144.50" y2="524.20" stroke="#777" stroke-width="0.6"/>
<line x1="147.50" y1="525.20" x2="147.50" y2="524.20" stroke="#777" stroke-width="0.6"/>
<line x1="150.50" y1="525.20" x2="150.50" y2="524.20" stroke="#777" stroke-width="0.6"/>
<line x1="153.50" y1="525.20" x2="153.50" y2="524.20" stroke="#777" stroke-width="0.6"/>
<line x1="155.50" y1="525.20" x2="155.50" y2="524.20" stroke="#777" stroke-width="0.6"/>
<line x1="158.50" y1="525.20" x2="158.50" y2="524.20" stroke="#777" stroke-width="0.6"/>
<line x1="161.50" y1="525.20" x2="161.50" y2="524.20" stroke="#777" stroke-width="0.6"/>
<line x1="163.50" y1="525.20" x2="163.50" y2="524.20" stroke="#777" stroke-width="0.6"/>
<line x1="166.50" y1="525.20" x2="166.50" y2="524.20" stroke="#777" stroke-width="0.6"/>
<line x1="169.50" y1="525.20" x2="169.50" y2="524.20" stroke="#777" stroke-width="0.6"/>
<line x1="171.50" y1="525.20" x2="171.50" y2="524.20" stroke="#777" stroke-width="0.6"/>
<line x1="174.50" y1="525.20" x2="174.50" y2="524.20" stroke="#777" stroke-width="0.6"/>
<line x1="177.50" y1="525.20" x2="177.50" y2="524.20" stroke="#777" stroke-width="0.6"/>
<line x1="180.50" y1="525.20" x2="180.50" y2="524.20" stroke="#777" stroke-width="0.6"/>
<line x1="182.50" y1="525.20" x2="182.50" y2="524.20" stroke="#777" stroke-width="0.6"/>
<line x1="185.50" y1="525.20" x2="185.50" y2="524.20" stroke="#777" stroke-width="0.6"/>
<line x1="188.50" y1="525.20" x2="188.50" y2="524.20" stroke="#777" stroke-width="0.6"/>
<line x1="190.50" y1="525.20" x2="190.50" y2="524.20" stroke="#777" stroke-width="0.6"/>
<line x1="193.50" y1="525.20" x2="193.50" y2="524.20" stroke="#777" stroke-width="0.6"/>
<line x1="196.50" y1="525.20" x2="196.50" y2="524.20" stroke="#777" stroke-width="0.6"/>
<line x1="198.50" y1="525.20" x2="198.50" y2="524.20" stroke="#777" stroke-width="0.6"/>
<line x1="201.50" y1="525.20" x2="201.50" y2="524.20" stroke="#777" stroke-width="0.6"/>
<line x1="139.50" y1="446.80" x2="139.50" y2="525.20" stroke="#9094d4" stroke-width="0.9"/>
<line x1="123.30" y1="508.50" x2="204.20" y2="508.50" stroke="#9094d4" stroke-width="0.9"/>
<text x="196.60" y="460.42" font-size="8.2" text-anchor="end" fill="#111" stroke="#111" stroke-width="0.3">11.1%</text>
<linearGradient id="pg2" x1="0" y1="490.5" x2="0" y2="510.0" gradientUnits="userSpaceOnUse"><stop offset="0" stop-color="#d0f0d0" stop-opacity="0.35"/><stop offset="0.15" stop-color="#90d890" stop-opacity="0.7"/><stop offset="0.55" stop-color="#40b040" stop-opacity="0.9"/><stop offset="0.85" stop-color="#1c841c"/><stop offset="1" stop-color="#134a13"/></linearGradient>
<path d="M146.05,490.50 Q147.80,489.00 149.55,490.50 L151.30,497.25 L151.44,510.00 L144.16,510.00 L144.30,497.25 Z" fill="url(#pg2)" filter="url(#blur)"/>
<rect x="145.5" y="493.9" width="0.8" height="0.8" fill="#60c860" opacity="0.35"/><rect x="150.5" y="491.0" width="0.8" height="0.8" fill="#60c860" opacity="0.35"/><rect x="148.9" y="497.7" width="0.8" height="0.8" fill="#20a020" opacity="0.5"/><rect x="145.2" y="491.2" width="0.8" height="0.8" fill="#60c860" opacity="0.35"/><rect x="151.3" y="491.1" width="0.8" height="0.8" fill="#60c860" opacity="0.35"/><rect x="149.2" y="495.0" width="0.8" height="0.8" fill="#60c860" opacity="0.35"/><rect x="149.0" y="503.6" width="0.8" height="0.8" fill="#0c5a0c" opacity="0.6"/><rect x="146.9" y="495.3" width="0.8" height="0.8" fill="#60c860" opacity="0.35"/><rect x="146.8" y="507.3" width="0.8" height="0.8" fill="#0c5a0c" opacity="0.6"/><rect x="146.9" y="503.0" width="0.8" height="0.8" fill="#0c5a0c" opacity="0.6"/><rect x="147.8" y="496.0" width="0.8" height="0.8" fill="#60c860" opacity="0.35"/><rect x="147.9" y="503.7" width="0.8" height="0.8" fill="#0c5a0c" opacity="0.6"/><rect x="145.1" y="506.5" width="0.8" height="0.8" fill="#0c5a0c" opacity="0.6"/><rect x="144.8" y="490.9" width="0.8" height="0.8" fill="#60c860" opacity="0.35"/><rect x="143.7" y="494.6" width="0.8" height="0.8" fill="#60c860" opacity="0.35"/><rect x="148.4" y="507.2" width="0.8" height="0.8" fill="#0c5a0c" opacity="0.6"/><rect x="147.8" y="497.3" width="0.8" height="0.8" fill="#20a020" opacity="0.5"/><rect x="149.6" y="499.1" width="0.8" height="0.8" fill="#20a020" opacity="0.5"/><rect x="149.0" y="506.7" width="0.8" height="0.8" fill="#0c5a0c" opacity="0.6"/><rect x="150.5" y="503.4" width="0.8" height="0.8" fill="#0c5a0c" opacity="0.6"/><rect x="148.1" y="504.9" width="0.8" height="0.8" fill="#0c5a0c" opacity="0.6"/><rect x="145.5" y="496.2" width="0.8" height="0.8" fill="#60c860" opacity="0.35"/><rect x="145.9" y="496.1" width="0.8" height="0.8" fill="#60c860" opacity="0.35"/><rect x="150.0" y="491.9" width="0.8" height="0.8" fill="#60c860" opacity="0.35"/><rect x="147.8" y="494.0" width="0.8" height="0.8" fill="#60c860" opacity="0.35"/><rect x="146.5" y="491.6" width="0.8" height="0.8" fill="#60c860" opacity="0.35"/><rect x="146.4" y="491.1" width="0.8" height="0.8" fill="#60c860" opacity="0.35"/><rect x="147.3" y="507.7" width="0.8" height="0.8" fill="#0c5a0c" opacity="0.6"/><rect x="149.1" y="506.0" width="0.8" height="0.8" fill="#0c5a0c" opacity="0.6"/><rect x="147.7" y="492.0" width="0.8" height="0.8" fill="#60c860" opacity="0.35"/><rect x="145.2" y="492.2" width="0.8" height="0.8" fill="#60c860" opacity="0.35"/><rect x="147.8" y="498.3" width="0.8" height="0.8" fill="#20a020" opacity="0.5"/><rect x="145.8" y="494.6" width="0.8" height="0.8" fill="#60c860" opacity="0.35"/><rect x="149.0" y="502.3" width="0.8" height="0.8" fill="#20a020" opacity="0.5"/><rect x="149.2" y="503.6" width="0.8" height="0.8" fill="#0c5a0c" opacity="0.6"/><rect x="145.8" y="492.6" width="0.8" height="0.8" fill="#60c860" opacity="0.35"/><rect x="147.2" y="505.2" width="0.8" height="0.8" fill="#0c5a0c" opacity="0.6"/><rect x="149.9" y="497.0" width="0.8" height="0.8" fill="#20a020" opacity="0.5"/><rect x="148.2" y="503.4" width="0.8" height="0.8" fill="#0c5a0c" opacity="0.6"/><rect x="149.0" y="494.8" width="0.8" height="0.8" fill="#60c860" opacity="0.35"/><rect x="149.4" y="493.2" width="0.8" height="0.8" fill="#60c860" opacity="0.35"/><rect x="146.3" y="496.2" width="0.8" height="0.8" fill="#60c860" opacity="0.35"/><rect x="149.8" y="497.4" width="0.8" height="0.8" fill="#20a020" opacity="0.5"/><rect x="147.7" y="494.5" width="0.8" height="0.8" fill="#60c860" opacity="0.35"/><rect x="144.9" y="504.6" width="0.8" height="0.8" fill="#0c5a0c" opacity="0.6"/><rect x="143.6" y="492.3" width="0.8" height="0.8" fill="#60c860" opacity="0.35"/><rect x="149.1" y="498.8" width="0.8" height="0.8" fill="#20a020" opacity="0.5"/><rect x="144.9" y="506.5" width="0.8" height="0.8" fill="#0c5a0c" opacity="0.6"/><rect x="147.6" y="491.2" width="0.8" height="0.8" fill="#60c860" opacity="0.35"/><rect x="148.6" y="493.8" width="0.8" height="0.8" fill="#60c860" opacity="0.35"/><rect x="144.5" y="507.5" width="0.8" height="0.8" fill="#0c5a0c" opacity="0.6"/><rect x="145.9" y="497.0" width="0.8" height="0.8" fill="#20a020" opacity="0.5"/><rect x="146.6" y="505.7" width="0.8" height="0.8" fill="#0c5a0c" opacity="0.6"/><rect x="148.2" y="504.1" width="0.8" height="0.8" fill="#0c5a0c" opacity="0.6"/><rect x="149.6" y="507.0" width="0.8" height="0.8" fill="#0c5a0c" opacity="0.6"/><rect x="149.2" y="501.3" width="0.8" height="0.8" fill="#20a020" opacity="0.5"/><rect x="147.2" y="494.3" width="0.8" height="0.8" fill="#60c860" opacity="0.35"/><rect x="148.5" y="494.1" width="0.8" height="0.8" fill="#60c860" opacity="0.35"/><rect x="145.8" y="495.0" width="0.8" height="0.8" fill="#60c860" opacity="0.35"/><rect x="146.4" y="494.1" width="0.8" height="0.8" fill="#60c860" opacity="0.35"/><rect x="146.6" y="490.7" width="0.8" height="0.8" fill="#60c860" opacity="0.35"/><rect x="150.0" y="493.7" width="0.8" height="0.8" fill="#60c860" opacity="0.35"/><rect x="148.7" y="496.0" width="0.8" height="0.8" fill="#60c860" opacity="0.35"/><rect x="150.6" y="500.1" width="0.8" height="0.8" fill="#20a020" opacity="0.5"/><rect x="149.1" y="491.6" width="0.8" height="0.8" fill="#60c860" opacity="0.35"/><rect x="148.8" y="500.1" width="0.8" height="0.8" fill="#20a020" opacity="0.5"/><rect x="148.6" y="501.7" width="0.8" height="0.8" fill="#20a020" opacity="0.5"/><rect x="148.3" y="502.7" width="0.8" height="0.8" fill="#20a020" opacity="0.5"/><rect x="147.5" y="497.7" width="0.8" height="0.8" fill="#20a020" opacity="0.5"/><rect x="149.2" y="507.2" width="0.8" height="0.8" fill="#0c5a0c" opacity="0.6"/><rect x="146.4" y="496.0" width="0.8" height="0.8" fill="#60c860" opacity="0.35"/><rect x="147.2" y="497.8" width="0.8" height="0.8" fill="#20a020" opacity="0.5"/><rect x="149.4" y="505.6" width="0.8" height="0.8" fill="#0c5a0c" opacity="0.6"/><rect x="147.8" y="494.0" width="0.8" height="0.8" fill="#60c860" opacity="0.35"/><rect x="147.9" y="503.2" width="0.8" height="0.8" fill="#0c5a0c" opacity="0.6"/><rect x="148.0" y="506.3" width="0.8" height="0.8" fill="#0c5a0c" opacity="0.6"/><rect x="148.5" y="497.9" width="0.8" height="0.8" fill="#20a020" opacity="0.5"/><rect x="146.3" y="505.9" width="0.8" height="0.8" fill="#0c5a0c" opacity="0.6"/><rect x="148.0" y="498.6" width="0.8" height="0.8" fill="#20a020" opacity="0.5"/><rect x="148.0" y="500.2" width="0.8" height="0.8" fill="#20a020" opacity="0.5"/><rect x="148.4" y="501.7" width="0.8" height="0.8" fill="#20a020" opacity="0.5"/><rect x="147.4" y="501.4" width="0.8" height="0.8" fill="#20a020" opacity="0.5"/><rect x="146.9" y="497.0" width="0.8" height="0.8" fill="#20a020" opacity="0.5"/><rect x="147.8" y="495.5" width="0.8" height="0.8" fill="#60c860" opacity="0.35"/><rect x="148.5" y="499.6" width="0.8" height="0.8" fill="#20a020" opacity="0.5"/><rect x="147.4" y="499.1" width="0.8" height="0.8" fill="#20a020" opacity="0.5"/><rect x="148.9" y="504.6" width="0.8" height="0.8" fill="#0c5a0c" opacity="0.6"/><rect x="147.6" y="492.7" width="0.8" height="0.8" fill="#60c860" opacity="0.35"/><rect x="149.7" y="507.0" width="0.8" height="0.8" fill="#0c5a0c" opacity="0.6"/><rect x="147.5" y="491.4" width="0.8" height="0.8" fill="#60c860" opacity="0.35"/>
<ellipse cx="147.80" cy="513.60" rx="5.90" ry="7.60" fill="#061406" filter="url(#blur)"/>
<rect x="151.1" y="511.5" width="0.8" height="0.8" fill="#000" opacity="0.5"/><rect x="151.6" y="510.2" width="0.8" height="0.8" fill="#000" opacity="0.5"/><rect x="148.9" y="510.9" width="0.8" height="0.8" fill="#000" opacity="0.5"/><rect x="148.4" y="510.1" width="0.8" height="0.8" fill="#000" opacity="0.5"/><rect x="143.3" y="517.5" width="0.8" height="0.8" fill="#000" opacity="0.5"/><rect x="149.0" y="510.7" width="0.8" height="0.8" fill="#000" opacity="0.5"/><rect x="148.5" y="518.3" width="0.8" height="0.8" fill="#000" opacity="0.5"/><rect x="144.2" y="513.1" width="0.8" height="0.8" fill="#000" opacity="0.5"/><rect x="149.9" y="516.2" width="0.8" height="0.8" fill="#000" opacity="0.5"/><rect x="146.9" y="506.5" width="0.8" height="0.8" fill="#000" opacity="0.5"/><rect x="152.1" y="515.1" width="0.8" height="0.8" fill="#000" opacity="0.5"/><rect x="147.9" y="512.1" width="0.8" height="0.8" fill="#000" opacity="0.5"/><rect x="148.9" y="511.4" width="0.8" height="0.8" fill="#000" opacity="0.5"/><rect x="144.3" y="510.3" width="0.8" height="0.8" fill="#000" opacity="0.5"/><rect x="145.5" y="510.6" width="0.8" height="0.8" fill="#000" opacity="0.5"/><rect x="143.9" y="516.4" width="0.8" height="0.8" fill="#000" opacity="0.5"/><rect x="143.5" y="516.4" width="0.8" height="0.8" fill="#000" opacity="0.5"/><rect x="144.1" y="515.3" width="0.8" height="0.8" fill="#000" opacity="0.5"/><rect x="152.4" y="514.5" width="0.8" height="0.8" fill="#000" opacity="0.5"/><rect x="144.9" y="513.8" width="0.8" height="0.8" fill="#000" opacity="0.5"/><rect x="148.2" y="506.9" width="0.8" height="0.8" fill="#000" opacity="0.5"/><rect x="145.4" y="514.4" width="0.8" height="0.8" fill="#000" opacity="0.5"/><rect x="145.9" y="514.0" width="0.8" height="0.8" fill="#000" opacity="0.5"/><rect x="150.5" y="517.2" width="0.8" height="0.8" fill="#000" opacity="0.5"/><rect x="151.1" y="516.4" width="0.8" height="0.8" fill="#000" opacity="0.5"/><rect x="146.6" y="513.5" width="0.8" height="0.8" fill="#000" opacity="0.5"/><rect x="146.7" y="512.0" width="0.8" height="0.8" fill="#000" opacity="0.5"/><rect x="147.3" y="506.9" width="0.8" height="0.8" fill="#000" opacity="0.5"/><rect x="146.4" y="513.5" width="0.8" height="0.8" fill="#000" opacity="0.5"/><rect x="144.2" y="513.5" width="0.8" height="0.8" fill="#000" opacity="0.5"/><rect x="149.9" y="512.7" width="0.8" height="0.8" fill="#000" opacity="0.5"/><rect x="151.5" y="507.7" width="0.8" height="0.8" fill="#000" opacity="0.5"/><rect x="147.2" y="506.8" width="0.8" height="0.8" fill="#000" opacity="0.5"/><rect x="149.8" y="520.7" width="0.8" height="0.8" fill="#000" opacity="0.5"/><rect x="142.0" y="514.0" width="0.8" height="0.8" fill="#000" opacity="0.5"/><rect x="149.9" y="512.0" width="0.8" height="0.8" fill="#000" opacity="0.5"/><rect x="149.2" y="506.5" width="0.8" height="0.8" fill="#000" opacity="0.5"/><rect x="151.0" y="515.4" width="0.8" height="0.8" fill="#000" opacity="0.5"/><rect x="147.9" y="510.6" width="0.8" height="0.8" fill="#000" opacity="0.5"/><rect x="150.3" y="511.2" width="0.8" height="0.8" fill="#000" opacity="0.5"/><rect x="148.7" y="511.0" width="0.8" height="0.8" fill="#000" opacity="0.5"/><rect x="142.1" y="513.5" width="0.8" height="0.8" fill="#000" opacity="0.5"/><rect x="148.6" y="517.4" width="0.8" height="0.8" fill="#000" opacity="0.5"/><rect x="144.5" y="513.4" width="0.8" height="0.8" fill="#000" opacity="0.5"/><rect x="150.3" y="514.3" width="0.8" height="0.8" fill="#000" opacity="0.5"/><rect x="150.8" y="519.8" width="0.8" height="0.8" fill="#000" opacity="0.5"/><rect x="145.4" y="507.1" width="0.8" height="0.8" fill="#000" opacity="0.5"/><rect x="150.4" y="519.5" width="0.8" height="0.8" fill="#000" opacity="0.5"/><rect x="151.0" y="517.3" width="0.8" height="0.8" fill="#000" opacity="0.5"/><rect x="145.5" y="510.2" width="0.8" height="0.8" fill="#000" opacity="0.5"/><rect x="150.9" y="509.5" width="0.8" height="0.8" fill="#000" opacity="0.5"/><rect x="142.9" y="510.2" width="0.8" height="0.8" fill="#000" opacity="0.5"/><rect x="152.5" y="518.2" width="0.8" height="0.8" fill="#000" opacity="0.5"/><rect x="145.3" y="510.1" width="0.8" height="0.8" fill="#000" opacity="0.5"/><rect x="148.7" y="509.9" width="0.8" height="0.8" fill="#000" opacity="0.5"/><rect x="152.3" y="513.3" width="0.8" height="0.8" fill="#000" opacity="0.5"/><rect x="144.5" y="518.7" width="0.8" height="0.8" fill="#000" opacity="0.5"/><rect x="145.5" y="514.7" width="0.8" height="0.8" fill="#000" opacity="0.5"/><rect x="147.7" y="511.9" width="0.8" height="0.8" fill="#000" opacity="0.5"/><rect x="149.1" y="510.1" width="0.8" height="0.8" fill="#000" opacity="0.5"/><rect x="144.0" y="507.8" width="0.8" height="0.8" fill="#000" opacity="0.5"/><rect x="143.7" y="510.4" width="0.8" height="0.8" fill="#000" opacity="0.5"/><rect x="147.7" y="513.9" width="0.8" height="0.8" fill="#000" opacity="0.5"/><rect x="150.0" y="514.2" width="0.8" height="0.8" fill="#000" opacity="0.5"/><rect x="144.9" y="510.3" width="0.8" height="0.8" fill="#000" opacity="0.5"/><rect x="142.2" y="513.0" width="0.8" height="0.8" fill="#000" opacity="0.5"/><rect x="149.7" y="516.3" width="0.8" height="0.8" fill="#000" opacity="0.5"/><rect x="147.3" y="512.7" width="0.8" height="0.8" fill="#000" opacity="0.5"/><rect x="151.3" y="513.7" width="0.8" height="0.8" fill="#000" opacity="0.5"/><rect x="150.6" y="516.4" width="0.8" height="0.8" fill="#000" opacity="0.5"/><rect x="148.5" y="519.3" width="0.8" height="0.8" fill="#000" opacity="0.5"/><rect x="145.5" y="511.8" width="0.8" height="0.8" fill="#000" opacity="0.5"/><rect x="144.9" y="509.9" width="0.8" height="0.8" fill="#000" opacity="0.5"/><rect x="151.6" y="519.1" width="0.8" height="0.8" fill="#000" opacity="0.5"/><rect x="147.9" y="516.5" width="0.8" height="0.8" fill="#000" opacity="0.5"/><rect x="151.7" y="517.0" width="0.8" height="0.8" fill="#000" opacity="0.5"/><rect x="151.4" y="508.7" width="0.8" height="0.8" fill="#000" opacity="0.5"/><rect x="145.3" y="515.9" width="0.8" height="0.8" fill="#000" opacity="0.5"/><rect x="152.5" y="514.0" width="0.8" height="0.8" fill="#000" opacity="0.5"/><rect x="144.6" y="511.9" width="0.8" height="0.8" fill="#000" opacity="0.5"/><rect x="145.4" y="509.6" width="0.8" height="0.8" fill="#000" opacity="0.5"/><rect x="152.5" y="511.1" width="0.8" height="0.8" fill="#000" opacity="0.5"/><rect x="147.9" y="520.8" width="0.8" height="0.8" fill="#000" opacity="0.5"/><rect x="151.9" y="515.1" width="0.8" height="0.8" fill="#000" opacity="0.5"/><rect x="145.4" y="515.7" width="0.8" height="0.8" fill="#000" opacity="0.5"/><rect x="152.7" y="516.0" width="0.8" height="0.8" fill="#000" opacity="0.5"/><rect x="152.2" y="514.0" width="0.8" height="0.8" fill="#000" opacity="0.5"/><rect x="149.9" y="512.6" width="0.8" height="0.8" fill="#000" opacity="0.5"/><rect x="149.2" y="519.2" width="0.8" height="0.8" fill="#000" opacity="0.5"/><rect x="143.1" y="513.3" width="0.8" height="0.8" fill="#000" opacity="0.5"/><rect x="148.8" y="510.7" width="0.8" height="0.8" fill="#000" opacity="0.5"/><rect x="146.6" y="517.5" width="0.8" height="0.8" fill="#000" opacity="0.5"/><rect x="153.1" y="515.7" width="0.8" height="0.8" fill="#000" opacity="0.5"/><rect x="148.8" y="507.3" width="0.8" height="0.8" fill="#000" opacity="0.5"/><rect x="153.2" y="513.9" width="0.8" height="0.8" fill="#000" opacity="0.5"/><rect x="147.7" y="508.4" width="0.8" height="0.8" fill="#000" opacity="0.5"/><rect x="147.6" y="508.5" width="0.8" height="0.8" fill="#000" opacity="0.5"/><rect x="148.1" y="516.0" width="0.8" height="0.8" fill="#000" opacity="0.5"/><rect x="147.9" y="515.1" width="0.8" height="0.8" fill="#000" opacity="0.5"/><rect x="145.2" y="519.3" width="0.8" height="0.8" fill="#000" opacity="0.5"/><rect x="146.0" y="507.0" width="0.8" height="0.8" fill="#000" opacity="0.5"/><rect x="147.1" y="509.8" width="0.8" height="0.8" fill="#000" opacity="0.5"/><rect x="144.1" y="511.9" width="0.8" height="0.8" fill="#000" opacity="0.5"/><rect x="148.8" y="508.3" width="0.8" height="0.8" fill="#000" opacity="0.5"/><rect x="147.3" y="519.7" width="0.8" height="0.8" fill="#000" opacity="0.5"/><rect x="150.5" y="512.8" width="0.8" height="0.8" fill="#000" opacity="0.5"/><rect x="148.3" y="513.0" width="0.8" height="0.8" fill="#000" opacity="0.5"/><rect x="147.6" y="517.3" width="0.8" height="0.8" fill="#000" opacity="0.5"/><rect x="147.6" y="506.2" width="0.8" height="0.8" fill="#000" opacity="0.5"/><rect x="147.7" y="509.3" width="0.8" height="0.8" fill="#000" opacity="0.5"/><rect x="150.3" y="510.6" width="0.8" height="0.8" fill="#000" opacity="0.5"/><rect x="148.2" y="520.8" width="0.8" height="0.8" fill="#000" opacity="0.5"/><rect x="144.5" y="509.0" width="0.8" height="0.8" fill="#000" opacity="0.5"/><rect x="144.8" y="507.1" width="0.8" height="0.8" fill="#000" opacity="0.5"/><rect x="142.5" y="514.9" width="0.8" height="0.8" fill="#000" opacity="0.5"/><rect x="146.0" y="506.9" width="0.8" height="0.8" fill="#000" opacity="0.5"/><rect x="143.2" y="516.1" width="0.8" height="0.8" fill="#000" opacity="0.5"/><rect x="144.8" y="511.8" width="0.8" height="0.8" fill="#000" opacity="0.5"/><rect x="148.9" y="519.4" width="0.8" height="0.8" fill="#000" opacity="0.5"/><rect x="152.8" y="517.0" width="0.8" height="0.8" fill="#000" opacity="0.5"/>
<rect x="215.20" y="446.80" width="79.10" height="78.40" fill="white" stroke="#c4c4c4" stroke-width="0.9"/>
<line x1="215.50" y1="446.80" x2="215.50" y2="525.20" stroke="#505050" stroke-width="0.9"/>
<line x1="215.20" y1="525.50" x2="294.30" y2="525.50" stroke="#505050" stroke-width="0.9"/>
<line x1="214.20" y1="450.50" x2="215.70" y2="450.50" stroke="#666" stroke-width="0.7"/>
<line x1="214.20" y1="459.50" x2="215.70" y2="459.50" stroke="#666" stroke-width="0.7"/>
<line x1="214.20" y1="468.50" x2="215.70" y2="468.50" stroke="#666" stroke-width="0.7"/>
<line x1="214.20" y1="476.50" x2="215.70" y2="476.50" stroke="#666" stroke-width="0.7"/>
<line x1="214.20" y1="485.50" x2="215.70" y2="485.50" stroke="#666" stroke-width="0.7"/>
<line x1="214.20" y1="493.50" x2="215.70" y2="493.50" stroke="#666" stroke-width="0.7"/>
<line x1="214.20" y1="502.50" x2="215.70" y2="502.50" stroke="#666" stroke-width="0.7"/>
<line x1="214.20" y1="511.50" x2="215.70" y2="511.50" stroke="#666" stroke-width="0.7"/>
<line x1="214.20" y1="519.50" x2="215.70" y2="519.50" stroke="#666" stroke-width="0.7"/>
<line x1="217.50" y1="525.20" x2="217.50" y2="524.20" stroke="#777" stroke-width="0.6"/>
<line x1="220.50" y1="525.20" x2="220.50" y2="524.20" stroke="#777" stroke-width="0.6"/>
<line x1="223.50" y1="525.20" x2="223.50" y2="524.20" stroke="#777" stroke-width="0.6"/>
<line x1="225.50" y1="525.20" x2="225.50" y2="524.20" stroke="#777" stroke-width="0.6"/>
<line x1="228.50" y1="525.20" x2="228.50" y2="524.20" stroke="#777" stroke-width="0.6"/>
<line x1="231.50" y1="525.20" x2="231.50" y2="524.20" stroke="#777" stroke-width="0.6"/>
<line x1="234.50" y1="525.20" x2="234.50" y2="524.20" stroke="#777" stroke-width="0.6"/>
<line x1="236.50" y1="525.20" x2="236.50" y2="524.20" stroke="#777" stroke-width="0.6"/>
<line x1="239.50" y1="525.20" x2="239.50" y2="524.20" stroke="#777" stroke-width="0.6"/>
<line x1="242.50" y1="525.20" x2="242.50" y2="524.20" stroke="#777" stroke-width="0.6"/>
<line x1="244.50" y1="525.20" x2="244.50" y2="524.20" stroke="#777" stroke-width="0.6"/>
<line x1="247.50" y1="525.20" x2="247.50" y2="524.20" stroke="#777" stroke-width="0.6"/>
<line x1="250.50" y1="525.20" x2="250.50" y2="524.20" stroke="#777" stroke-width="0.6"/>
<line x1="252.50" y1="525.20" x2="252.50" y2="524.20" stroke="#777" stroke-width="0.6"/>
<line x1="255.50" y1="525.20" x2="255.50" y2="524.20" stroke="#777" stroke-width="0.6"/>
<line x1="258.50" y1="525.20" x2="258.50" y2="524.20" stroke="#777" stroke-width="0.6"/>
<line x1="261.50" y1="525.20" x2="261.50" y2="524.20" stroke="#777" stroke-width="0.6"/>
<line x1="263.50" y1="525.20" x2="263.50" y2="524.20" stroke="#777" stroke-width="0.6"/>
<line x1="266.50" y1="525.20" x2="266.50" y2="524.20" stroke="#777" stroke-width="0.6"/>
<line x1="269.50" y1="525.20" x2="269.50" y2="524.20" stroke="#777" stroke-width="0.6"/>
<line x1="271.50" y1="525.20" x2="271.50" y2="524.20" stroke="#777" stroke-width="0.6"/>
<line x1="274.50" y1="525.20" x2="274.50" y2="524.20" stroke="#777" stroke-width="0.6"/>
<line x1="277.50" y1="525.20" x2="277.50" y2="524.20" stroke="#777" stroke-width="0.6"/>
<line x1="280.50" y1="525.20" x2="280.50" y2="524.20" stroke="#777" stroke-width="0.6"/>
<line x1="282.50" y1="525.20" x2="282.50" y2="524.20" stroke="#777" stroke-width="0.6"/>
<line x1="285.50" y1="525.20" x2="285.50" y2="524.20" stroke="#777" stroke-width="0.6"/>
<line x1="288.50" y1="525.20" x2="288.50" y2="524.20" stroke="#777" stroke-width="0.6"/>
<line x1="290.50" y1="525.20" x2="290.50" y2="524.20" stroke="#777" stroke-width="0.6"/>
<line x1="293.50" y1="525.20" x2="293.50" y2="524.20" stroke="#777" stroke-width="0.6"/>
<line x1="231.50" y1="446.80" x2="231.50" y2="525.20" stroke="#9094d4" stroke-width="0.9"/>
<line x1="215.20" y1="508.50" x2="294.30" y2="508.50" stroke="#9094d4" stroke-width="0.9"/>
<text x="291.10" y="460.42" font-size="8.2" text-anchor="end" fill="#111" stroke="#111" stroke-width="0.3">22.4%</text>
<linearGradient id="pg3" x1="0" y1="470.0" x2="0" y2="510.0" gradientUnits="userSpaceOnUse"><stop offset="0" stop-color="#d0f0d0" stop-opacity="0.35"/><stop offset="0.11" stop-color="#90d890" stop-opacity="0.7"/><stop offset="0.55" stop-color="#40b040" stop-opacity="0.9"/><stop offset="0.85" stop-color="#1c841c"/><stop offset="1" stop-color="#166016"/></linearGradient>
<path d="M238.25,470.00 Q240.60,468.50 242.95,470.00 L245.30,483.95 L245.49,510.00 L235.71,510.00 L235.90,483.95 Z" fill="url(#pg3)" filter="url(#blur)"/>
<rect x="241.6" y="475.5" width="0.8" height="0.8" fill="#60c860" opacity="0.35"/><rect x="240.8" y="505.3" width="0.8" height="0.8" fill="#0c5a0c" opacity="0.6"/><rect x="240.9" y="483.1" width="0.8" height="0.8" fill="#60c860" opacity="0.35"/><rect x="241.0" y="471.6" width="0.8" height="0.8" fill="#60c860" opacity="0.35"/><rect x="238.3" y="496.3" width="0.8" height="0.8" fill="#20a020" opacity="0.5"/><rect x="238.0" y="498.0" width="0.8" height="0.8" fill="#0c5a0c" opacity="0.6"/><rect x="238.8" y="472.5" width="0.8" height="0.8" fill="#60c860" opacity="0.35"/><rect x="239.5" y="501.1" width="0.8" height="0.8" fill="#0c5a0c" opacity="0.6"/><rect x="241.2" y="501.1" width="0.8" height="0.8" fill="#0c5a0c" opacity="0.6"/><rect x="240.1" y="503.0" width="0.8" height="0.8" fill="#0c5a0c" opacity="0.6"/><rect x="241.6" y="504.7" width="0.8" height="0.8" fill="#0c5a0c" opacity="0.6"/><rect x="240.2" y="477.8" width="0.8" height="0.8" fill="#60c860" opacity="0.35"/><rect x="244.8" y="474.3" width="0.8" height="0.8" fill="#60c860" opacity="0.35"/><rect x="241.5" y="500.9" width="0.8" height="0.8" fill="#0c5a0c" opacity="0.6"/><rect x="242.0" y="494.1" width="0.8" height="0.8" fill="#20a020" opacity="0.5"/><rect x="237.8" y="480.9" width="0.8" height="0.8" fill="#60c860" opacity="0.35"/><rect x="243.7" y="473.8" width="0.8" height="0.8" fill="#60c860" opacity="0.35"/><rect x="242.8" y="477.8" width="0.8" height="0.8" fill="#60c860" opacity="0.35"/><rect x="240.2" y="482.1" width="0.8" height="0.8" fill="#60c860" opacity="0.35"/><rect x="240.8" y="479.8" width="0.8" height="0.8" fill="#60c860" opacity="0.35"/><rect x="240.1" y="480.7" width="0.8" height="0.8" fill="#60c860" opacity="0.35"/><rect x="238.5" y="482.2" width="0.8" height="0.8" fill="#60c860" opacity="0.35"/><rect x="236.2" y="506.6" width="0.8" height="0.8" fill="#0c5a0c" opacity="0.6"/><rect x="240.5" y="493.5" width="0.8" height="0.8" fill="#20a020" opacity="0.5"/><rect x="238.6" y="471.2" width="0.8" height="0.8" fill="#60c860" opacity="0.35"/><rect x="241.8" y="499.4" width="0.8" height="0.8" fill="#0c5a0c" opacity="0.6"/><rect x="239.8" y="483.2" width="0.8" height="0.8" fill="#60c860" opacity="0.35"/><rect x="237.9" y="478.2" width="0.8" height="0.8" fill="#60c860" opacity="0.35"/><rect x="244.1" y="502.8" width="0.8" height="0.8" fill="#0c5a0c" opacity="0.6"/><rect x="242.8" y="476.5" width="0.8" height="0.8" fill="#60c860" opacity="0.35"/><rect x="241.7" y="470.0" width="0.8" height="0.8" fill="#60c860" opacity="0.35"/><rect x="244.2" y="507.2" width="0.8" height="0.8" fill="#0c5a0c" opacity="0.6"/><rect x="238.0" y="470.2" width="0.8" height="0.8" fill="#60c860" opacity="0.35"/><rect x="240.7" y="500.3" width="0.8" height="0.8" fill="#0c5a0c" opacity="0.6"/><rect x="238.5" y="477.0" width="0.8" height="0.8" fill="#60c860" opacity="0.35"/><rect x="240.7" y="501.6" width="0.8" height="0.8" fill="#0c5a0c" opacity="0.6"/><rect x="242.3" y="479.9" width="0.8" height="0.8" fill="#60c860" opacity="0.35"/><rect x="240.0" y="478.2" width="0.8" height="0.8" fill="#60c860" opacity="0.35"/><rect x="239.5" y="496.6" width="0.8" height="0.8" fill="#20a020" opacity="0.5"/><rect x="240.6" y="494.2" width="0.8" height="0.8" fill="#20a020" opacity="0.5"/><rect x="241.4" y="473.1" width="0.8" height="0.8" fill="#60c860" opacity="0.35"/><rect x="237.2" y="499.9" width="0.8" height="0.8" fill="#0c5a0c" opacity="0.6"/><rect x="239.2" y="493.9" width="0.8" height="0.8" fill="#20a020" opacity="0.5"/><rect x="242.4" y="485.0" width="0.8" height="0.8" fill="#20a020" opacity="0.5"/><rect x="244.6" y="503.8" width="0.8" height="0.8" fill="#0c5a0c" opacity="0.6"/><rect x="243.0" y="471.0" width="0.8" height="0.8" fill="#60c860" opacity="0.35"/><rect x="240.2" y="477.8" width="0.8" height="0.8" fill="#60c860" opacity="0.35"/><rect x="245.4" y="489.0" width="0.8" height="0.8" fill="#20a020" opacity="0.5"/><rect x="241.8" y="484.4" width="0.8" height="0.8" fill="#20a020" opacity="0.5"/><rect x="239.5" y="487.5" width="0.8" height="0.8" fill="#20a020" opacity="0.5"/><rect x="240.7" y="490.2" width="0.8" height="0.8" fill="#20a020" opacity="0.5"/><rect x="236.9" y="494.6" width="0.8" height="0.8" fill="#20a020" opacity="0.5"/><rect x="240.0" y="483.2" width="0.8" height="0.8" fill="#60c860" opacity="0.35"/><rect x="241.8" y="502.0" width="0.8" height="0.8" fill="#0c5a0c" opacity="0.6"/><rect x="240.5" y="495.2" width="0.8" height="0.8" fill="#20a020" opacity="0.5"/><rect x="239.2" y="486.7" width="0.8" height="0.8" fill="#20a020" opacity="0.5"/><rect x="239.6" y="499.4" width="0.8" height="0.8" fill="#0c5a0c" opacity="0.6"/><rect x="240.0" y="487.6" width="0.8" height="0.8" fill="#20a020" opacity="0.5"/><rect x="240.7" y="503.6" width="0.8" height="0.8" fill="#0c5a0c" opacity="0.6"/><rect x="242.1" y="481.5" width="0.8" height="0.8" fill="#60c860" opacity="0.35"/><rect x="241.3" y="496.7" width="0.8" height="0.8" fill="#0c5a0c" opacity="0.6"/><rect x="239.5" y="475.9" width="0.8" height="0.8" fill="#60c860" opacity="0.35"/><rect x="239.3" y="479.4" width="0.8" height="0.8" fill="#60c860" opacity="0.35"/><rect x="243.0" y="476.1" width="0.8" height="0.8" fill="#60c860" opacity="0.35"/><rect x="242.9" y="482.5" width="0.8" height="0.8" fill="#60c860" opacity="0.35"/><rect x="246.2" y="497.7" width="0.8" height="0.8" fill="#0c5a0c" opacity="0.6"/><rect x="241.6" y="473.9" width="0.8" height="0.8" fill="#60c860" opacity="0.35"/><rect x="240.4" y="484.6" width="0.8" height="0.8" fill="#20a020" opacity="0.5"/><rect x="241.6" y="507.4" width="0.8" height="0.8" fill="#0c5a0c" opacity="0.6"/><rect x="237.1" y="486.5" width="0.8" height="0.8" fill="#20a020" opacity="0.5"/><rect x="239.9" y="477.5" width="0.8" height="0.8" fill="#60c860" opacity="0.35"/><rect x="239.8" y="477.8" width="0.8" height="0.8" fill="#60c860" opacity="0.35"/><rect x="242.8" y="484.8" width="0.8" height="0.8" fill="#20a020" opacity="0.5"/><rect x="241.1" y="500.1" width="0.8" height="0.8" fill="#0c5a0c" opacity="0.6"/><rect x="237.4" y="496.4" width="0.8" height="0.8" fill="#20a020" opacity="0.5"/><rect x="240.6" y="487.6" width="0.8" height="0.8" fill="#20a020" opacity="0.5"/><rect x="238.8" y="475.4" width="0.8" height="0.8" fill="#60c860" opacity="0.35"/><rect x="239.2" y="498.2" width="0.8" height="0.8" fill="#0c5a0c" opacity="0.6"/><rect x="238.0" y="504.5" width="0.8" height="0.8" fill="#0c5a0c" opacity="0.6"/><rect x="241.8" y="498.5" width="0.8" height="0.8" fill="#0c5a0c" opacity="0.6"/><rect x="241.1" y="486.0" width="0.8" height="0.8" fill="#20a020" opacity="0.5"/><rect x="244.1" y="503.4" width="0.8" height="0.8" fill="#0c5a0c" opacity="0.6"/><rect x="239.2" y="499.4" width="0.8" height="0.8" fill="#0c5a0c" opacity="0.6"/><rect x="236.4" y="495.8" width="0.8" height="0.8" fill="#20a020" opacity="0.5"/><rect x="238.7" y="494.4" width="0.8" height="0.8" fill="#20a020" opacity="0.5"/><rect x="241.2" y="493.9" width="0.8" height="0.8" fill="#20a020" opacity="0.5"/><rect x="237.2" y="473.7" width="0.8" height="0.8" fill="#60c860" opacity="0.35"/><rect x="242.5" y="497.1" width="0.8" height="0.8" fill="#0c5a0c" opacity="0.6"/><rect x="240.6" y="493.9" width="0.8" height="0.8" fill="#20a020" opacity="0.5"/><rect x="242.9" y="487.3" width="0.8" height="0.8" fill="#20a020" opacity="0.5"/><rect x="237.8" y="493.6" width="0.8" height="0.8" fill="#20a020" opacity="0.5"/><rect x="242.4" y="505.3" width="0.8" height="0.8" fill="#0c5a0c" opacity="0.6"/><rect x="238.4" y="477.0" width="0.8" height="0.8" fill="#60c860" opacity="0.35"/><rect x="237.4" y="484.8" width="0.8" height="0.8" fill="#20a020" opacity="0.5"/><rect x="241.2" y="488.6" width="0.8" height="0.8" fill="#20a020" opacity="0.5"/><rect x="240.5" y="490.6" width="0.8" height="0.8" fill="#20a020" opacity="0.5"/><rect x="241.7" y="476.1" width="0.8" height="0.8" fill="#60c860" opacity="0.35"/><rect x="235.4" y="489.7" width="0.8" height="0.8" fill="#20a020" opacity="0.5"/><rect x="238.1" y="473.8" width="0.8" height="0.8" fill="#60c860" opacity="0.35"/><rect x="239.3" y="497.3" width="0.8" height="0.8" fill="#0c5a0c" opacity="0.6"/><rect x="237.9" y="489.5" width="0.8" height="0.8" fill="#20a020" opacity="0.5"/><rect x="237.4" y="489.8" width="0.8" height="0.8" fill="#20a020" opacity="0.5"/><rect x="242.1" y="485.6" width="0.8" height="0.8" fill="#20a020" opacity="0.5"/><rect x="240.1" y="496.0" width="0.8" height="0.8" fill="#20a020" opacity="0.5"/><rect x="240.7" y="484.9" width="0.8" height="0.8" fill="#20a020" opacity="0.5"/><rect x="239.5" y="507.4" width="0.8" height="0.8" fill="#0c5a0c" opacity="0.6"/><rect x="242.3" y="483.5" width="0.8" height="0.8" fill="#20a020" opacity="0.5"/><rect x="241.2" y="485.2" width="0.8" height="0.8" fill="#20a020" opacity="0.5"/><rect x="238.6" y="470.5" width="0.8" height="0.8" fill="#60c860" opacity="0.35"/><rect x="241.7" y="496.5" width="0.8" height="0.8" fill="#20a020" opacity="0.5"/><rect x="240.4" y="483.4" width="0.8" height="0.8" fill="#20a020" opacity="0.5"/><rect x="242.2" y="498.2" width="0.8" height="0.8" fill="#0c5a0c" opacity="0.6"/><rect x="239.0" y="505.7" width="0.8" height="0.8" fill="#0c5a0c" opacity="0.6"/><rect x="240.3" y="500.5" width="0.8" height="0.8" fill="#0c5a0c" opacity="0.6"/><rect x="240.9" y="484.9" width="0.8" height="0.8" fill="#20a020" opacity="0.5"/><rect x="241.7" y="499.5" width="0.8" height="0.8" fill="#0c5a0c" opacity="0.6"/><rect x="238.9" y="500.8" width="0.8" height="0.8" fill="#0c5a0c" opacity="0.6"/><rect x="238.7" y="491.4" width="0.8" height="0.8" fill="#20a020" opacity="0.5"/><rect x="242.6" y="478.6" width="0.8" height="0.8" fill="#60c860" opacity="0.35"/><rect x="240.1" y="494.3" width="0.8" height="0.8" fill="#20a020" opacity="0.5"/><rect x="241.6" y="501.1" width="0.8" height="0.8" fill="#0c5a0c" opacity="0.6"/><rect x="238.3" y="481.2" width="0.8" height="0.8" fill="#60c860" opacity="0.35"/><rect x="243.6" y="490.8" width="0.8" height="0.8" fill="#20a020" opacity="0.5"/><rect x="243.6" y="483.5" width="0.8" height="0.8" fill="#20a020" opacity="0.5"/><rect x="240.4" y="502.3" width="0.8" height="0.8" fill="#0c5a0c" opacity="0.6"/><rect x="242.8" y="479.6" width="0.8" height="0.8" fill="#60c860" opacity="0.35"/><rect x="240.7" y="486.2" width="0.8" height="0.8" fill="#20a020" opacity="0.5"/><rect x="240.8" y="497.4" width="0.8" height="0.8" fill="#0c5a0c" opacity="0.6"/><rect x="240.7" y="480.7" width="0.8" height="0.8" fill="#60c860" opacity="0.35"/><rect x="242.5" y="488.2" width="0.8" height="0.8" fill="#20a020" opacity="0.5"/><rect x="238.5" y="486.3" width="0.8" height="0.8" fill="#20a020" opacity="0.5"/><rect x="238.1" y="483.8" width="0.8" height="0.8" fill="#20a020" opacity="0.5"/><rect x="241.1" y="505.3" width="0.8" height="0.8" fill="#0c5a0c" opacity="0.6"/><rect x="240.0" y="501.5" width="0.8" height="0.8" fill="#0c5a0c" opacity="0.6"/><rect x="240.9" y="504.4" width="0.8" height="0.8" fill="#0c5a0c" opacity="0.6"/><rect x="239.4" y="501.6" width="0.8" height="0.8" fill="#0c5a0c" opacity="0.6"/><rect x="240.9" y="494.1" width="0.8" height="0.8" fill="#20a020" opacity="0.5"/><rect x="240.6" y="506.2" width="0.8" height="0.8" fill="#0c5a0c" opacity="0.6"/><rect x="240.6" y="494.9" width="0.8" height="0.8" fill="#20a020" opacity="0.5"/><rect x="241.6" y="475.4" width="0.8" height="0.8" fill="#60c860" opacity="0.35"/><rect x="240.9" y="478.9" width="0.8" height="0.8" fill="#60c860" opacity="0.35"/><rect x="238.6" y="475.8" width="0.8" height="0.8" fill="#60c860" opacity="0.35"/><rect x="241.0" y="504.4" width="0.8" height="0.8" fill="#0c5a0c" opacity="0.6"/><rect x="239.3" y="503.9" width="0.8" height="0.8" fill="#0c5a0c" opacity="0.6"/><rect x="241.2" y="493.1" width="0.8" height="0.8" fill="#20a020" opacity="0.5"/><rect x="237.3" y="504.0" width="0.8" height="0.8" fill="#0c5a0c" opacity="0.6"/><rect x="241.4" y="499.9" width="0.8" height="0.8" fill="#0c5a0c" opacity="0.6"/><rect x="239.3" y="496.3" width="0.8" height="0.8" fill="#20a020" opacity="0.5"/><rect x="240.5" y="490.2" width="0.8" height="0.8" fill="#20a020" opacity="0.5"/><rect x="238.2" y="503.5" width="0.8" height="0.8" fill="#0c5a0c" opacity="0.6"/><rect x="240.5" y="491.1" width="0.8" height="0.8" fill="#20a020" opacity="0.5"/><rect x="242.2" y="475.3" width="0.8" height="0.8" fill="#60c860" opacity="0.35"/><rect x="242.9" y="488.7" width="0.8" height="0.8" fill="#20a020" opacity="0.5"/><rect x="241.5" y="475.5" width="0.8" height="0.8" fill="#60c860" opacity="0.35"/><rect x="237.8" y="488.7" width="0.8" height="0.8" fill="#20a020" opacity="0.5"/><rect x="240.6" y="502.8" width="0.8" height="0.8" fill="#0c5a0c" opacity="0.6"/><rect x="242.0" y="470.3" width="0.8" height="0.8" fill="#60c860" opacity="0.35"/><rect x="238.5" y="491.4" width="0.8" height="0.8" fill="#20a020" opacity="0.5"/><rect x="241.8" y="495.3" width="0.8" height="0.8" fill="#20a020" opacity="0.5"/><rect x="238.8" y="485.9" width="0.8" height="0.8" fill="#20a020" opacity="0.5"/><rect x="243.4" y="506.5" width="0.8" height="0.8" fill="#0c5a0c" opacity="0.6"/><rect x="242.1" y="494.2" width="0.8" height="0.8" fill="#20a020" opacity="0.5"/><rect x="238.0" y="471.1" width="0.8" height="0.8" fill="#60c860" opacity="0.35"/><rect x="238.4" y="505.4" width="0.8" height="0.8" fill="#0c5a0c" opacity="0.6"/><rect x="243.3" y="482.6" width="0.8" height="0.8" fill="#60c860" opacity="0.35"/><rect x="240.3" y="488.4" width="0.8" height="0.8" fill="#20a020" opacity="0.5"/><rect x="244.1" y="504.1" width="0.8" height="0.8" fill="#0c5a0c" opacity="0.6"/><rect x="241.4" y="493.8" width="0.8" height="0.8" fill="#20a020" opacity="0.5"/><rect x="242.0" y="482.9" width="0.8" height="0.8" fill="#60c860" opacity="0.35"/><rect x="239.0" y="488.0" width="0.8" height="0.8" fill="#20a020" opacity="0.5"/><rect x="240.8" y="490.0" width="0.8" height="0.8" fill="#20a020" opacity="0.5"/><rect x="239.1" y="486.5" width="0.8" height="0.8" fill="#20a020" opacity="0.5"/><rect x="236.6" y="486.1" width="0.8" height="0.8" fill="#20a020" opacity="0.5"/><rect x="239.2" y="481.1" width="0.8" height="0.8" fill="#60c860" opacity="0.35"/><rect x="238.4" y="501.5" width="0.8" height="0.8" fill="#0c5a0c" opacity="0.6"/><rect x="242.1" y="480.3" width="0.8" height="0.8" fill="#60c860" opacity="0.35"/><rect x="243.8" y="489.2" width="0.8" height="0.8" fill="#20a020" opacity="0.5"/><rect x="240.1" y="500.1" width="0.8" height="0.8" fill="#0c5a0c" opacity="0.6"/><rect x="239.8" y="482.6" width="0.8" height="0.8" fill="#60c860" opacity="0.35"/><rect x="242.3" y="492.3" width="0.8" height="0.8" fill="#20a020" opacity="0.5"/><rect x="240.7" y="494.1" width="0.8" height="0.8" fill="#20a020" opacity="0.5"/><rect x="240.0" y="497.5" width="0.8" height="0.8" fill="#0c5a0c" opacity="0.6"/><rect x="239.9" y="503.7" width="0.8" height="0.8" fill="#0c5a0c" opacity="0.6"/><rect x="240.4" y="481.4" width="0.8" height="0.8" fill="#60c860" opacity="0.35"/><rect x="242.5" y="470.2" width="0.8" height="0.8" fill="#60c860" opacity="0.35"/><rect x="245.3" y="493.1" width="0.8" height="0.8" fill="#20a020" opacity="0.5"/><rect x="241.8" y="495.0" width="0.8" height="0.8" fill="#20a020" opacity="0.5"/><rect x="235.8" y="493.2" width="0.8" height="0.8" fill="#20a020" opacity="0.5"/><rect x="238.2" y="493.4" width="0.8" height="0.8" fill="#20a020" opacity="0.5"/><rect x="238.1" y="492.7" width="0.8" height="0.8" fill="#20a020" opacity="0.5"/><rect x="241.4" y="495.9" width="0.8" height="0.8" fill="#20a020" opacity="0.5"/><rect x="243.8" y="487.4" width="0.8" height="0.8" fill="#20a020" opacity="0.5"/><rect x="241.7" y="499.0" width="0.8" height="0.8" fill="#0c5a0c" opacity="0.6"/><rect x="241.4" y="471.4" width="0.8" height="0.8" fill="#60c860" opacity="0.35"/><rect x="243.4" y="499.4" width="0.8" height="0.8" fill="#0c5a0c" opacity="0.6"/><rect x="238.9" y="484.0" width="0.8" height="0.8" fill="#20a020" opacity="0.5"/><rect x="241.3" y="501.3" width="0.8" height="0.8" fill="#0c5a0c" opacity="0.6"/><rect x="237.8" y="479.8" width="0.8" height="0.8" fill="#60c860" opacity="0.35"/><rect x="238.9" y="481.5" width="0.8" height="0.8" fill="#60c860" opacity="0.35"/><rect x="241.5" y="486.4" width="0.8" height="0.8" fill="#20a020" opacity="0.5"/><rect x="241.3" y="494.4" width="0.8" height="0.8" fill="#20a020" opacity="0.5"/><rect x="240.3" y="491.6" width="0.8" height="0.8" fill="#20a020" opacity="0.5"/><rect x="243.6" y="471.5" width="0.8" height="0.8" fill="#60c860" opacity="0.35"/><rect x="243.4" y="491.9" width="0.8" height="0.8" fill="#20a020" opacity="0.5"/><rect x="240.2" y="504.9" width="0.8" height="0.8" fill="#0c5a0c" opacity="0.6"/><rect x="240.7" y="484.7" width="0.8" height="0.8" fill="#20a020" opacity="0.5"/><rect x="246.4" y="492.5" width="0.8" height="0.8" fill="#20a020" opacity="0.5"/><rect x="238.2" y="488.1" width="0.8" height="0.8" fill="#20a020" opacity="0.5"/><rect x="243.2" y="485.7" width="0.8" height="0.8" fill="#20a020" opacity="0.5"/><rect x="242.5" y="478.1" width="0.8" height="0.8" fill="#60c860" opacity="0.35"/><rect x="240.8" y="475.8" width="0.8" height="0.8" fill="#60c860" opacity="0.35"/><rect x="240.6" y="496.0" width="0.8" height="0.8" fill="#20a020" opacity="0.5"/><rect x="241.5" y="474.6" width="0.8" height="0.8" fill="#60c860" opacity="0.35"/><rect x="240.4" y="503.0" width="0.8" height="0.8" fill="#0c5a0c" opacity="0.6"/><rect x="244.1" y="474.9" width="0.8" height="0.8" fill="#60c860" opacity="0.35"/><rect x="241.0" y="479.2" width="0.8" height="0.8" fill="#60c860" opacity="0.35"/><rect x="240.9" y="497.9" width="0.8" height="0.8" fill="#0c5a0c" opacity="0.6"/><rect x="241.3" y="499.4" width="0.8" height="0.8" fill="#0c5a0c" opacity="0.6"/><rect x="242.8" y="497.1" width="0.8" height="0.8" fill="#0c5a0c" opacity="0.6"/><rect x="237.7" y="473.2" width="0.8" height="0.8" fill="#60c860" opacity="0.35"/><rect x="240.0" y="493.9" width="0.8" height="0.8" fill="#20a020" opacity="0.5"/><rect x="238.2" y="505.4" width="0.8" height="0.8" fill="#0c5a0c" opacity="0.6"/><rect x="244.1" y="479.7" width="0.8" height="0.8" fill="#60c860" opacity="0.35"/><rect x="239.8" y="470.4" width="0.8" height="0.8" fill="#60c860" opacity="0.35"/><rect x="238.2" y="470.6" width="0.8" height="0.8" fill="#60c860" opacity="0.35"/><rect x="237.3" y="473.0" width="0.8" height="0.8" fill="#60c860" opacity="0.35"/><rect x="240.4" y="481.8" width="0.8" height="0.8" fill="#60c860" opacity="0.35"/><rect x="239.3" y="502.7" width="0.8" height="0.8" fill="#0c5a0c" opacity="0.6"/><rect x="242.6" y="488.5" width="0.8" height="0.8" fill="#20a020" opacity="0.5"/><rect x="241.4" y="491.8" width="0.8" height="0.8" fill="#20a020" opacity="0.5"/><rect x="240.0" y="486.7" width="0.8" height="0.8" fill="#20a020" opacity="0.5"/><rect x="239.5" y="500.3" width="0.8" height="0.8" fill="#0c5a0c" opacity="0.6"/><rect x="238.7" y="483.8" width="0.8" height="0.8" fill="#20a020" opacity="0.5"/><rect x="238.1" y="485.9" width="0.8" height="0.8" fill="#20a020" opacity="0.5"/><rect x="241.8" y="484.7" width="0.8" height="0.8" fill="#20a020" opacity="0.5"/><rect x="235.4" y="499.8" width="0.8" height="0.8" fill="#0c5a0c" opacity="0.6"/><rect x="240.4" y="491.5" width="0.8" height="0.8" fill="#20a020" opacity="0.5"/><rect x="241.4" y="507.0" width="0.8" height="0.8" fill="#0c5a0c" opacity="0.6"/><rect x="241.5" y="496.7" width="0.8" height="0.8" fill="#0c5a0c" opacity="0.6"/><rect x="238.8" y="493.0" width="0.8" height="0.8" fill="#20a020" opacity="0.5"/>
<ellipse cx="240.60" cy="513.20" rx="5.50" ry="7.20" fill="#0a300a" filter="url(#blur)"/>
<rect x="245.6" y="512.3" width="0.8" height="0.8" fill="#000" opacity="0.5"/><rect x="238.1" y="510.8" width="0.8" height="0.8" fill="#000" opacity="0.5"/><rect x="235.9" y="516.1" width="0.8" height="0.8" fill="#000" opacity="0.5"/><rect x="237.3" y="517.4" width="0.8" height="0.8" fill="#000" opacity="0.5"/><rect x="236.4" y="509.1" width="0.8" height="0.8" fill="#000" opacity="0.5"/><rect x="241.6" y="509.6" width="0.8" height="0.8" fill="#000" opacity="0.5"/><rect x="243.4" y="513.2" width="0.8" height="0.8" fill="#000" opacity="0.5"/><rect x="236.9" y="515.8" width="0.8" height="0.8" fill="#000" opacity="0.5"/><rect x="242.7" y="507.0" width="0.8" height="0.8" fill="#000" opacity="0.5"/><rect x="245.4" y="514.9" width="0.8" height="0.8" fill="#000" opacity="0.5"/><rect x="242.5" y="507.0" width="0.8" height="0.8" fill="#000" opacity="0.5"/><rect x="238.0" y="511.6" width="0.8" height="0.8" fill="#000" opacity="0.5"/><rect x="243.5" y="508.0" width="0.8" height="0.8" fill="#000" opacity="0.5"/><rect x="238.5" y="506.9" width="0.8" height="0.8" fill="#000" opacity="0.5"/><rect x="239.7" y="514.9" width="0.8" height="0.8" fill="#000" opacity="0.5"/><rect x="236.0" y="511.1" width="0.8" height="0.8" fill="#000" opacity="0.5"/><rect x="242.1" y="519.1" width="0.8" height="0.8" fill="#000" opacity="0.5"/><rect x="243.0" y="511.8" width="0.8" height="0.8" fill="#000" opacity="0.5"/><rect x="237.1" y="509.5" width="0.8" height="0.8" fill="#000" opacity="0.5"/><rect x="238.2" y="513.9" width="0.8" height="0.8" fill="#000" opacity="0.5"/><rect x="240.5" y="519.4" width="0.8" height="0.8" fill="#000" opacity="0.5"/><rect x="241.6" y="508.5" width="0.8" height="0.8" fill="#000" opacity="0.5"/><rect x="244.8" y="516.6" width="0.8" height="0.8" fill="#000" opacity="0.5"/><rect x="241.0" y="509.8" width="0.8" height="0.8" fill="#000" opacity="0.5"/><rect x="236.0" y="509.9" width="0.8" height="0.8" fill="#000" opacity="0.5"/><rect x="243.6" y="509.8" width="0.8" height="0.8" fill="#000" opacity="0.5"/><rect x="236.4" y="514.0" width="0.8" height="0.8" fill="#000" opacity="0.5"/><rect x="241.5" y="516.1" width="0.8" height="0.8" fill="#000" opacity="0.5"/><rect x="242.5" y="518.7" width="0.8" height="0.8" fill="#000" opacity="0.5"/><rect x="237.9" y="517.3" width="0.8" height="0.8" fill="#000" opacity="0.5"/><rect x="237.4" y="516.2" width="0.8" height="0.8" fill="#000" opacity="0.5"/><rect x="241.3" y="514.4" width="0.8" height="0.8" fill="#000" opacity="0.5"/><rect x="244.0" y="513.1" width="0.8" height="0.8" fill="#000" opacity="0.5"/><rect x="244.0" y="516.7" width="0.8" height="0.8" fill="#000" opacity="0.5"/><rect x="241.1" y="510.4" width="0.8" height="0.8" fill="#000" opacity="0.5"/><rect x="238.0" y="510.8" width="0.8" height="0.8" fill="#000" opacity="0.5"/><rect x="239.8" y="513.1" width="0.8" height="0.8" fill="#000" opacity="0.5"/><rect x="246.0" y="514.7" width="0.8" height="0.8" fill="#000" opacity="0.5"/><rect x="243.2" y="509.5" width="0.8" height="0.8" fill="#000" opacity="0.5"/><rect x="238.0" y="511.7" width="0.8" height="0.8" fill="#000" opacity="0.5"/><rect x="241.3" y="508.6" width="0.8" height="0.8" fill="#000" opacity="0.5"/><rect x="245.1" y="511.1" width="0.8" height="0.8" fill="#000" opacity="0.5"/><rect x="242.9" y="506.8" width="0.8" height="0.8" fill="#000" opacity="0.5"/><rect x="240.6" y="514.6" width="0.8" height="0.8" fill="#000" opacity="0.5"/><rect x="241.3" y="516.1" width="0.8" height="0.8" fill="#000" opacity="0.5"/><rect x="241.7" y="514.0" width="0.8" height="0.8" fill="#000" opacity="0.5"/><rect x="235.8" y="510.8" width="0.8" height="0.8" fill="#000" opacity="0.5"/><rect x="235.4" y="515.0" width="0.8" height="0.8" fill="#000" opacity="0.5"/><rect x="241.8" y="512.2" width="0.8" height="0.8" fill="#000" opacity="0.5"/><rect x="237.8" y="510.6" width="0.8" height="0.8" fill="#000" opacity="0.5"/><rect x="244.5" y="518.0" width="0.8" height="0.8" fill="#000" opacity="0.5"/><rect x="240.4" y="518.6" width="0.8" height="0.8" fill="#000" opacity="0.5"/><rect x="237.2" y="507.8" width="0.8" height="0.8" fill="#000" opacity="0.5"/><rect x="238.9" y="509.2" width="0.8" height="0.8" fill="#000" opacity="0.5"/><rect x="238.5" y="514.1" width="0.8" height="0.8" fill="#000" opacity="0.5"/><rect x="246.0" y="511.7" width="0.8" height="0.8" fill="#000" opacity="0.5"/><rect x="240.8" y="514.6" width="0.8" height="0.8" fill="#000" opacity="0.5"/><rect x="240.5" y="517.5" width="0.8" height="0.8" fill="#000" opacity="0.5"/><rect x="244.9" y="509.3" width="0.8" height="0.8" fill="#000" opacity="0.5"/><rect x="241.2" y="511.9" width="0.8" height="0.8" fill="#000" opacity="0.5"/><rect x="241.6" y="507.3" width="0.8" height="0.8" fill="#000" opacity="0.5"/><rect x="237.3" y="507.5" width="0.8" height="0.8" fill="#000" opacity="0.5"/><rect x="242.6" y="514.1" width="0.8" height="0.8" fill="#000" opacity="0.5"/><rect x="240.8" y="506.2" width="0.8" height="0.8" fill="#000" opacity="0.5"/><rect x="239.3" y="509.7" width="0.8" height="0.8" fill="#000" opacity="0.5"/><rect x="236.6" y="509.8" width="0.8" height="0.8" fill="#000" opacity="0.5"/><rect x="243.1" y="515.7" width="0.8" height="0.8" fill="#000" opacity="0.5"/><rect x="240.5" y="515.7" width="0.8" height="0.8" fill="#000" opacity="0.5"/><rect x="238.4" y="513.5" width="0.8" height="0.8" fill="#000" opacity="0.5"/><rect x="240.8" y="515.9" width="0.8" height="0.8" fill="#000" opacity="0.5"/><rect x="240.3" y="512.5" width="0.8" height="0.8" fill="#000" opacity="0.5"/><rect x="240.1" y="510.1" width="0.8" height="0.8" fill="#000" opacity="0.5"/><rect x="245.8" y="514.8" width="0.8" height="0.8" fill="#000" opacity="0.5"/><rect x="241.6" y="520.0" width="0.8" height="0.8" fill="#000" opacity="0.5"/><rect x="244.1" y="508.2" width="0.8" height="0.8" fill="#000" opacity="0.5"/><rect x="242.9" y="516.9" width="0.8" height="0.8" fill="#000" opacity="0.5"/><rect x="244.9" y="517.2" width="0.8" height="0.8" fill="#000" opacity="0.5"/><rect x="243.0" y="508.4" width="0.8" height="0.8" fill="#000" opacity="0.5"/><rect x="237.5" y="514.4" width="0.8" height="0.8" fill="#000" opacity="0.5"/><rect x="242.3" y="508.7" width="0.8" height="0.8" fill="#000" opacity="0.5"/><rect x="239.2" y="511.2" width="0.8" height="0.8" fill="#000" opacity="0.5"/><rect x="240.8" y="514.9" width="0.8" height="0.8" fill="#000" opacity="0.5"/><rect x="239.7" y="508.0" width="0.8" height="0.8" fill="#000" opacity="0.5"/><rect x="243.8" y="518.5" width="0.8" height="0.8" fill="#000" opacity="0.5"/><rect x="240.2" y="517.8" width="0.8" height="0.8" fill="#000" opacity="0.5"/><rect x="242.2" y="516.3" width="0.8" height="0.8" fill="#000" opacity="0.5"/><rect x="242.3" y="509.7" width="0.8" height="0.8" fill="#000" opacity="0.5"/><rect x="242.5" y="517.6" width="0.8" height="0.8" fill="#000" opacity="0.5"/><rect x="238.4" y="519.4" width="0.8" height="0.8" fill="#000" opacity="0.5"/><rect x="244.7" y="517.9" width="0.8" height="0.8" fill="#000" opacity="0.5"/><rect x="245.5" y="515.6" width="0.8" height="0.8" fill="#000" opacity="0.5"/><rect x="239.4" y="510.3" width="0.8" height="0.8" fill="#000" opacity="0.5"/><rect x="237.7" y="513.7" width="0.8" height="0.8" fill="#000" opacity="0.5"/><rect x="240.5" y="516.4" width="0.8" height="0.8" fill="#000" opacity="0.5"/><rect x="237.0" y="518.6" width="0.8" height="0.8" fill="#000" opacity="0.5"/><rect x="245.9" y="513.1" width="0.8" height="0.8" fill="#000" opacity="0.5"/><rect x="243.0" y="515.4" width="0.8" height="0.8" fill="#000" opacity="0.5"/><rect x="241.6" y="512.2" width="0.8" height="0.8" fill="#000" opacity="0.5"/><rect x="240.2" y="509.3" width="0.8" height="0.8" fill="#000" opacity="0.5"/><rect x="241.3" y="513.1" width="0.8" height="0.8" fill="#000" opacity="0.5"/><rect x="241.7" y="509.3" width="0.8" height="0.8" fill="#000" opacity="0.5"/><rect x="240.8" y="513.4" width="0.8" height="0.8" fill="#000" opacity="0.5"/><rect x="242.6" y="508.7" width="0.8" height="0.8" fill="#000" opacity="0.5"/><rect x="242.0" y="517.6" width="0.8" height="0.8" fill="#000" opacity="0.5"/><rect x="242.8" y="511.4" width="0.8" height="0.8" fill="#000" opacity="0.5"/><rect x="238.8" y="512.0" width="0.8" height="0.8" fill="#000" opacity="0.5"/><rect x="242.7" y="518.9" width="0.8" height="0.8" fill="#000" opacity="0.5"/><rect x="240.0" y="510.1" width="0.8" height="0.8" fill="#000" opacity="0.5"/><rect x="242.0" y="514.2" width="0.8" height="0.8" fill="#000" opacity="0.5"/><rect x="237.6" y="510.0" width="0.8" height="0.8" fill="#000" opacity="0.5"/><rect x="240.2" y="516.4" width="0.8" height="0.8" fill="#000" opacity="0.5"/><rect x="237.1" y="509.3" width="0.8" height="0.8" fill="#000" opacity="0.5"/><rect x="242.2" y="508.1" width="0.8" height="0.8" fill="#000" opacity="0.5"/><rect x="241.0" y="515.0" width="0.8" height="0.8" fill="#000" opacity="0.5"/><rect x="240.2" y="508.6" width="0.8" height="0.8" fill="#000" opacity="0.5"/><rect x="240.4" y="511.5" width="0.8" height="0.8" fill="#000" opacity="0.5"/><rect x="241.8" y="509.3" width="0.8" height="0.8" fill="#000" opacity="0.5"/><rect x="243.4" y="507.6" width="0.8" height="0.8" fill="#000" opacity="0.5"/><rect x="239.9" y="513.2" width="0.8" height="0.8" fill="#000" opacity="0.5"/><rect x="243.8" y="510.5" width="0.8" height="0.8" fill="#000" opacity="0.5"/>
<line x1="21.50" y1="503.80" x2="21.50" y2="535.10" stroke="#222" stroke-width="1.3"/>
<line x1="21.20" y1="535.50" x2="54.60" y2="535.50" stroke="#222" stroke-width="1.3"/>
<path d="M18.50,508.00 L21.20,503.40 L23.90,508.00" fill="none" stroke="#222" stroke-width="1.5" stroke-linejoin="miter"/>
<path d="M50.40,532.40 L55.00,535.10 L50.40,537.80" fill="none" stroke="#222" stroke-width="1.5" stroke-linejoin="miter"/>
<text x="22.72" y="488.20" font-size="8.2" text-anchor="middle" fill="#111" stroke="#111" stroke-width="0.3" transform="rotate(-90 22.72 488.20)" textLength="17" lengthAdjust="spacingAndGlyphs">IFN&#947;</text>
<text x="65.50" y="539.09" font-size="8.4" text-anchor="start" fill="#111" stroke="#111" stroke-width="0.3" textLength="16.8" lengthAdjust="spacingAndGlyphs">CD8</text>
<text x="312.30" y="427.60" font-size="16" fill="#000" stroke="#000" stroke-width="0.3">N</text>
<line x1="342.50" y1="436.30" x2="342.50" y2="522.60" stroke="#111" stroke-width="1.4"/>
<line x1="341.50" y1="521.50" x2="416.50" y2="521.50" stroke="#111" stroke-width="1.4"/>
<line x1="338.60" y1="436.50" x2="342.20" y2="436.50" stroke="#111" stroke-width="1.3"/>
<text x="337.70" y="439.52" font-size="8.5" text-anchor="end" fill="#111" stroke="#111" stroke-width="0.3">40</text>
<line x1="338.60" y1="458.50" x2="342.20" y2="458.50" stroke="#111" stroke-width="1.3"/>
<text x="337.70" y="460.82" font-size="8.5" text-anchor="end" fill="#111" stroke="#111" stroke-width="0.3">30</text>
<line x1="338.60" y1="479.50" x2="342.20" y2="479.50" stroke="#111" stroke-width="1.3"/>
<text x="337.70" y="482.12" font-size="8.5" text-anchor="end" fill="#111" stroke="#111" stroke-width="0.3">20</text>
<line x1="338.60" y1="500.50" x2="342.20" y2="500.50" stroke="#111" stroke-width="1.3"/>
<text x="337.70" y="503.32" font-size="8.5" text-anchor="end" fill="#111" stroke="#111" stroke-width="0.3">10</text>
<line x1="338.60" y1="521.50" x2="342.20" y2="521.50" stroke="#111" stroke-width="1.3"/>
<text x="337.70" y="524.52" font-size="8.5" text-anchor="end" fill="#111" stroke="#111" stroke-width="0.3">0</text>
<line x1="354.50" y1="521.90" x2="354.50" y2="525.60" stroke="#111" stroke-width="1.2"/>
<line x1="379.50" y1="521.90" x2="379.50" y2="525.60" stroke="#111" stroke-width="1.2"/>
<line x1="404.50" y1="521.90" x2="404.50" y2="525.60" stroke="#111" stroke-width="1.2"/>
<line x1="354.50" y1="462.30" x2="354.50" y2="458.00" stroke="#5a0802" stroke-width="1.2"/>
<line x1="352.10" y1="458.50" x2="356.30" y2="458.50" stroke="#5a0802" stroke-width="1.2"/>
<rect x="346.10" y="462.80" width="16.20" height="59.10" fill="#991204" stroke="#5a0802" stroke-width="1"/>
<line x1="379.50" y1="494.60" x2="379.50" y2="490.30" stroke="#040a60" stroke-width="1.2"/>
<line x1="377.10" y1="490.50" x2="381.30" y2="490.50" stroke="#040a60" stroke-width="1.2"/>
<rect x="371.70" y="495.10" width="15.00" height="26.80" fill="#08129a" stroke="#040a60" stroke-width="1"/>
<line x1="404.50" y1="477.70" x2="404.50" y2="474.60" stroke="#045804" stroke-width="1.2"/>
<line x1="402.45" y1="474.50" x2="406.65" y2="474.50" stroke="#045804" stroke-width="1.2"/>
<rect x="396.90" y="478.20" width="15.30" height="43.70" fill="#068806" stroke="#045804" stroke-width="1"/>
<path d="M353.50,454.60 L353.50,448.50 L378.50,448.50 L378.50,486.90" fill="none" stroke="#222" stroke-width="1.05" stroke-linejoin="miter"/>
<path d="M380.50,486.90 L380.50,464.50 L404.50,464.50 L404.50,471.20" fill="none" stroke="#222" stroke-width="1.05" stroke-linejoin="miter"/>
<path d="M359.70,439.30L359.70,444.70M357.36,440.65L362.04,443.35M357.36,443.35L362.04,440.65M365.80,439.30L365.80,444.70M363.46,440.65L368.14,443.35M363.46,443.35L368.14,440.65M371.90,439.30L371.90,444.70M369.56,440.65L374.24,443.35M369.56,443.35L374.24,440.65" stroke="#505050" stroke-width="1.05" fill="none"/>
<path d="M389.25,455.80L389.25,461.20M386.91,457.15L391.59,459.85M386.91,459.85L391.59,457.15M395.35,455.80L395.35,461.20M393.01,457.15L397.69,459.85M393.01,459.85L397.69,457.15" stroke="#505050" stroke-width="1.05" fill="none"/>
<text x="320.05" y="479.90" font-size="8.0" text-anchor="middle" fill="#111" stroke="#111" stroke-width="0.3" transform="rotate(-90 320.05 479.90)" textLength="68.5" lengthAdjust="spacingAndGlyphs">% CD8<tspan font-size="5" dy="-2.5">+</tspan><tspan dy="2.5"> IFN&#947; cells</tspan></text>
<rect x="422.20" y="452.80" width="7.20" height="4.90" fill="#921010" stroke="none" stroke-width="0"/>
<rect x="422.00" y="479.20" width="7.10" height="5.20" fill="#0c0c9c" stroke="none" stroke-width="0"/>
<rect x="422.00" y="503.00" width="7.10" height="5.20" fill="#128c12" stroke="none" stroke-width="0"/>
<text x="433.70" y="458.29" font-size="8.4" text-anchor="start" fill="#111" stroke="#111" stroke-width="0.3" textLength="45.7" lengthAdjust="spacingAndGlyphs">&#945;CD3/CD28</text>
<text x="471.90" y="478.99" font-size="8.4" text-anchor="middle" fill="#111" stroke="#111" stroke-width="0.3" textLength="52.9" lengthAdjust="spacingAndGlyphs">&#945;CD3/CD28 +</text>
<text x="472.80" y="488.89" font-size="8.4" text-anchor="middle" fill="#111" stroke="#111" stroke-width="0.3" textLength="71.3" lengthAdjust="spacingAndGlyphs">SGC7901+Isotype</text>
<text x="471.90" y="505.89" font-size="8.4" text-anchor="middle" fill="#111" stroke="#111" stroke-width="0.3" textLength="52.9" lengthAdjust="spacingAndGlyphs">&#945;CD3/CD28 +</text>
<text x="474.00" y="515.39" font-size="8.4" text-anchor="middle" fill="#111" stroke="#111" stroke-width="0.3" textLength="75.1" lengthAdjust="spacingAndGlyphs">+ SGC7901+&#945;TIGIT</text>
</svg>
</body></html>
